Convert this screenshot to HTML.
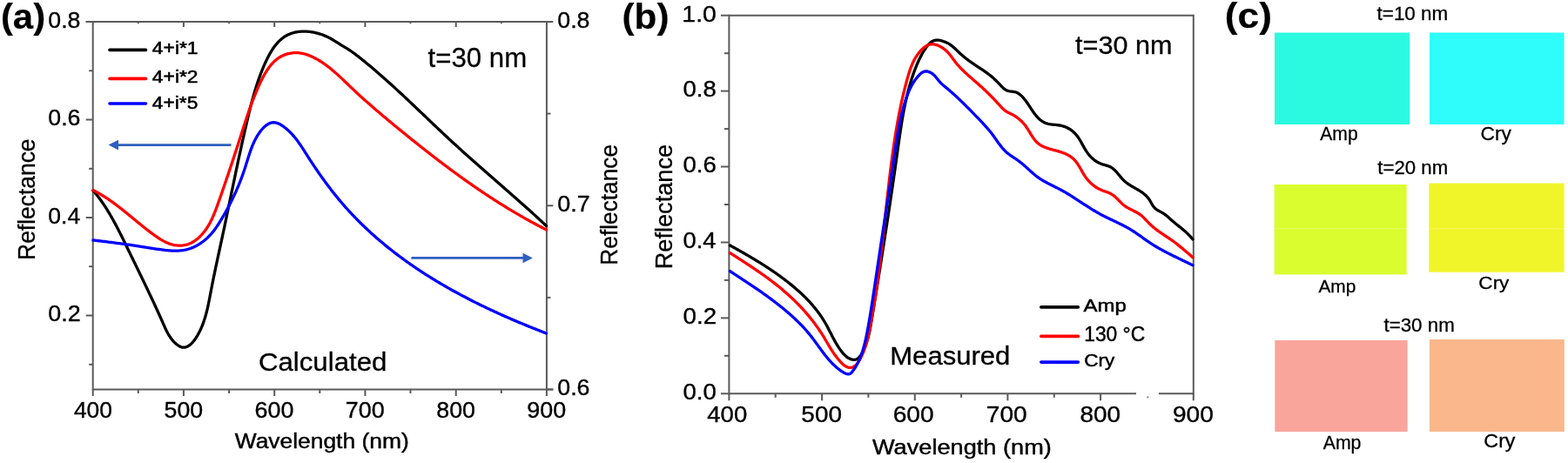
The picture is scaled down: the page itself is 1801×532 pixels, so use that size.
<!DOCTYPE html>
<html><head><meta charset="utf-8"><title>Reflectance spectra</title>
<style>
html,body{margin:0;padding:0;background:#fff;}
body{width:1801px;height:532px;overflow:hidden;}
svg{display:block;}
svg text{font-family:"Liberation Sans", Arial, sans-serif;fill:#000;stroke:#000;}
</style></head>
<body>
<svg width="1801" height="532" viewBox="0 0 1801 532">
<rect width="1801" height="532" fill="#fff"/>
<line x1="98.7" y1="25.0" x2="627.9" y2="25.0" stroke="#5a5a5a" stroke-width="2.0"/>
<line x1="106.7" y1="24.0" x2="106.7" y2="448.5" stroke="#5a5a5a" stroke-width="2.0"/>
<line x1="627.9" y1="24.0" x2="627.9" y2="448.5" stroke="#5a5a5a" stroke-width="2.0"/>
<line x1="106.7" y1="447.5" x2="635.4" y2="447.5" stroke="#5a5a5a" stroke-width="2.0"/>
<line x1="106.7" y1="447.5" x2="106.7" y2="455.0" stroke="#5a5a5a" stroke-width="2.0"/>
<text transform="translate(84.92,479.84) scale(1.0186,1)" font-size="25.92" font-weight="normal" stroke-width="0.38">400</text>
<line x1="158.8" y1="447.5" x2="158.8" y2="452.0" stroke="#5a5a5a" stroke-width="2.0"/>
<line x1="158.8" y1="25.0" x2="158.8" y2="27.2" stroke="#5a5a5a" stroke-width="2.0"/>
<line x1="210.9" y1="447.5" x2="210.9" y2="455.0" stroke="#5a5a5a" stroke-width="2.0"/>
<line x1="210.9" y1="25.0" x2="210.9" y2="31.0" stroke="#5a5a5a" stroke-width="2.0"/>
<text transform="translate(188.62,479.84) scale(1.0314,1)" font-size="25.92" font-weight="normal" stroke-width="0.38">500</text>
<line x1="263.1" y1="447.5" x2="263.1" y2="452.0" stroke="#5a5a5a" stroke-width="2.0"/>
<line x1="263.1" y1="25.0" x2="263.1" y2="27.2" stroke="#5a5a5a" stroke-width="2.0"/>
<line x1="315.2" y1="447.5" x2="315.2" y2="455.0" stroke="#5a5a5a" stroke-width="2.0"/>
<line x1="315.2" y1="25.0" x2="315.2" y2="31.0" stroke="#5a5a5a" stroke-width="2.0"/>
<text transform="translate(292.59,479.84) scale(1.0379,1)" font-size="25.92" font-weight="normal" stroke-width="0.38">600</text>
<line x1="367.3" y1="447.5" x2="367.3" y2="452.0" stroke="#5a5a5a" stroke-width="2.0"/>
<line x1="367.3" y1="25.0" x2="367.3" y2="27.2" stroke="#5a5a5a" stroke-width="2.0"/>
<line x1="419.4" y1="447.5" x2="419.4" y2="455.0" stroke="#5a5a5a" stroke-width="2.0"/>
<line x1="419.4" y1="25.0" x2="419.4" y2="31.0" stroke="#5a5a5a" stroke-width="2.0"/>
<text transform="translate(396.83,479.84) scale(1.0379,1)" font-size="25.92" font-weight="normal" stroke-width="0.38">700</text>
<line x1="471.5" y1="447.5" x2="471.5" y2="452.0" stroke="#5a5a5a" stroke-width="2.0"/>
<line x1="471.5" y1="25.0" x2="471.5" y2="27.2" stroke="#5a5a5a" stroke-width="2.0"/>
<line x1="523.7" y1="447.5" x2="523.7" y2="455.0" stroke="#5a5a5a" stroke-width="2.0"/>
<line x1="523.7" y1="25.0" x2="523.7" y2="31.0" stroke="#5a5a5a" stroke-width="2.0"/>
<text transform="translate(501.34,479.84) scale(1.0314,1)" font-size="25.92" font-weight="normal" stroke-width="0.38">800</text>
<line x1="575.8" y1="447.5" x2="575.8" y2="452.0" stroke="#5a5a5a" stroke-width="2.0"/>
<line x1="575.8" y1="25.0" x2="575.8" y2="27.2" stroke="#5a5a5a" stroke-width="2.0"/>
<line x1="627.9" y1="447.5" x2="627.9" y2="455.0" stroke="#5a5a5a" stroke-width="2.0"/>
<text transform="translate(605.31,479.84) scale(1.0379,1)" font-size="25.92" font-weight="normal" stroke-width="0.38">900</text>
<line x1="102.2" y1="418.8" x2="106.7" y2="418.8" stroke="#5a5a5a" stroke-width="2.0"/>
<line x1="98.7" y1="362.5" x2="106.7" y2="362.5" stroke="#5a5a5a" stroke-width="2.0"/>
<text transform="translate(55.32,369.24) scale(1.0389,1)" font-size="25.92" font-weight="normal" stroke-width="0.38">0.2</text>
<line x1="102.2" y1="306.2" x2="106.7" y2="306.2" stroke="#5a5a5a" stroke-width="2.0"/>
<line x1="98.7" y1="250.0" x2="106.7" y2="250.0" stroke="#5a5a5a" stroke-width="2.0"/>
<text transform="translate(55.34,256.74) scale(1.0231,1)" font-size="25.92" font-weight="normal" stroke-width="0.38">0.4</text>
<line x1="102.2" y1="193.8" x2="106.7" y2="193.8" stroke="#5a5a5a" stroke-width="2.0"/>
<line x1="98.7" y1="137.5" x2="106.7" y2="137.5" stroke="#5a5a5a" stroke-width="2.0"/>
<text transform="translate(55.33,144.24) scale(1.0309,1)" font-size="25.92" font-weight="normal" stroke-width="0.38">0.6</text>
<line x1="102.2" y1="81.3" x2="106.7" y2="81.3" stroke="#5a5a5a" stroke-width="2.0"/>
<line x1="98.7" y1="25.0" x2="106.7" y2="25.0" stroke="#5a5a5a" stroke-width="2.0"/>
<text transform="translate(55.33,31.74) scale(1.0309,1)" font-size="25.92" font-weight="normal" stroke-width="0.38">0.8</text>
<line x1="627.9" y1="447.5" x2="635.4" y2="447.5" stroke="#5a5a5a" stroke-width="2.0"/>
<text transform="translate(640.33,454.14) scale(1.0090,1)" font-size="26.48" font-weight="normal" stroke-width="0.37">0.6</text>
<line x1="627.9" y1="341.9" x2="632.4" y2="341.9" stroke="#5a5a5a" stroke-width="2.0"/>
<line x1="627.9" y1="236.3" x2="635.4" y2="236.3" stroke="#5a5a5a" stroke-width="2.0"/>
<text transform="translate(640.32,242.89) scale(1.0168,1)" font-size="26.48" font-weight="normal" stroke-width="0.37">0.7</text>
<line x1="627.9" y1="130.6" x2="632.4" y2="130.6" stroke="#5a5a5a" stroke-width="2.0"/>
<line x1="627.9" y1="25.0" x2="635.4" y2="25.0" stroke="#5a5a5a" stroke-width="2.0"/>
<text transform="translate(640.33,31.64) scale(1.0090,1)" font-size="26.48" font-weight="normal" stroke-width="0.37">0.8</text>
<path d="M107.01,218.99 L107.98,220.12 L108.94,221.26 L109.88,222.41 L110.82,223.56 L111.74,224.73 L112.66,225.91 L113.56,227.10 L114.45,228.30 L115.34,229.51 L116.21,230.72 L117.07,231.95 L117.93,233.18 L118.78,234.42 L119.61,235.67 L120.44,236.93 L121.26,238.19 L122.08,239.46 L122.88,240.74 L123.68,242.03 L124.47,243.32 L125.25,244.62 L126.03,245.92 L126.79,247.23 L127.56,248.54 L128.31,249.86 L129.06,251.19 L129.80,252.52 L130.54,253.85 L131.27,255.19 L132.00,256.53 L132.72,257.88 L133.44,259.23 L134.15,260.58 L134.86,261.93 L135.56,263.29 L136.26,264.65 L136.96,266.01 L137.65,267.38 L138.34,268.75 L139.02,270.11 L139.70,271.48 L140.38,272.85 L141.06,274.22 L141.73,275.59 L142.41,276.96 L143.08,278.34 L143.74,279.71 L144.41,281.08 L145.08,282.45 L145.74,283.82 L146.41,285.18 L147.07,286.55 L147.73,287.91 L148.40,289.27 L149.06,290.64 L149.72,291.99 L150.38,293.35 L151.04,294.71 L151.70,296.06 L152.36,297.42 L153.02,298.77 L153.68,300.12 L154.34,301.47 L155.00,302.82 L155.66,304.17 L156.32,305.52 L156.97,306.87 L157.63,308.22 L158.29,309.57 L158.94,310.92 L159.60,312.26 L160.25,313.61 L160.91,314.96 L161.56,316.31 L162.21,317.65 L162.86,319.00 L163.52,320.35 L164.17,321.70 L164.82,323.05 L165.47,324.40 L166.12,325.75 L166.77,327.10 L167.42,328.46 L168.07,329.81 L168.72,331.17 L169.36,332.52 L170.01,333.88 L170.66,335.24 L171.30,336.60 L171.95,337.96 L172.59,339.33 L173.24,340.69 L173.88,342.06 L174.52,343.43 L175.17,344.80 L175.81,346.17 L176.45,347.55 L177.09,348.93 L177.73,350.31 L178.37,351.69 L179.01,353.08 L179.65,354.47 L180.29,355.86 L180.92,357.25 L181.56,358.65 L182.20,360.05 L182.83,361.45 L183.47,362.86 L184.10,364.27 L184.74,365.68 L185.37,367.10 L186.00,368.52 L186.63,369.94 L187.26,371.37 L187.90,372.80 L188.53,374.23 L189.17,375.66 L189.83,377.09 L190.50,378.50 L191.18,379.91 L191.89,381.30 L192.62,382.68 L193.38,384.04 L194.18,385.38 L195.01,386.70 L195.88,387.99 L196.79,389.25 L197.75,390.48 L198.76,391.68 L199.83,392.83 L200.95,393.95 L202.13,395.02 L203.34,396.02 L204.59,396.91 L205.86,397.69 L207.12,398.33 L208.38,398.79 L209.62,399.07 L210.84,399.18 L212.03,399.12 L213.20,398.91 L214.35,398.55 L215.47,398.05 L216.57,397.43 L217.65,396.69 L218.70,395.85 L219.72,394.92 L220.72,393.90 L221.69,392.81 L222.63,391.65 L223.54,390.44 L224.42,389.19 L225.28,387.90 L226.10,386.59 L226.90,385.27 L227.66,383.93 L228.40,382.59 L229.10,381.23 L229.78,379.86 L230.44,378.48 L231.07,377.09 L231.67,375.69 L232.25,374.28 L232.81,372.86 L233.34,371.43 L233.86,370.00 L234.36,368.55 L234.83,367.10 L235.29,365.65 L235.73,364.19 L236.16,362.72 L236.57,361.24 L236.96,359.76 L237.34,358.28 L237.71,356.79 L238.07,355.29 L238.42,353.80 L238.75,352.30 L239.08,350.80 L239.40,349.29 L239.71,347.78 L240.01,346.28 L240.31,344.77 L240.61,343.26 L240.90,341.75 L241.19,340.24 L241.47,338.73 L241.76,337.22 L242.04,335.71 L242.33,334.21 L242.62,332.70 L242.91,331.20 L243.20,329.70 L243.49,328.21 L243.79,326.71 L244.08,325.22 L244.38,323.73 L244.68,322.24 L244.98,320.75 L245.28,319.27 L245.59,317.78 L245.89,316.30 L246.20,314.82 L246.50,313.34 L246.81,311.86 L247.12,310.38 L247.43,308.91 L247.74,307.43 L248.05,305.96 L248.37,304.48 L248.68,303.01 L248.99,301.54 L249.31,300.07 L249.62,298.60 L249.94,297.13 L250.26,295.66 L250.57,294.19 L250.89,292.72 L251.21,291.25 L251.53,289.78 L251.84,288.31 L252.16,286.85 L252.48,285.38 L252.80,283.91 L253.12,282.44 L253.43,280.97 L253.75,279.50 L254.07,278.03 L254.39,276.56 L254.70,275.09 L255.02,273.61 L255.34,272.14 L255.65,270.67 L255.97,269.19 L256.28,267.72 L256.60,266.24 L256.91,264.76 L257.22,263.29 L257.54,261.81 L257.85,260.33 L258.16,258.85 L258.47,257.37 L258.78,255.89 L259.10,254.40 L259.41,252.92 L259.72,251.44 L260.03,249.95 L260.34,248.47 L260.65,246.98 L260.96,245.50 L261.27,244.01 L261.58,242.53 L261.89,241.04 L262.19,239.55 L262.50,238.07 L262.81,236.58 L263.12,235.09 L263.43,233.60 L263.74,232.11 L264.05,230.62 L264.35,229.14 L264.66,227.65 L264.97,226.16 L265.28,224.67 L265.59,223.18 L265.90,221.69 L266.21,220.20 L266.52,218.71 L266.83,217.22 L267.14,215.72 L267.44,214.23 L267.75,212.74 L268.06,211.25 L268.37,209.76 L268.69,208.27 L269.00,206.78 L269.31,205.29 L269.62,203.80 L269.93,202.31 L270.24,200.82 L270.55,199.33 L270.87,197.84 L271.18,196.36 L271.49,194.87 L271.81,193.38 L272.12,191.89 L272.44,190.40 L272.75,188.92 L273.07,187.43 L273.39,185.94 L273.70,184.46 L274.02,182.97 L274.34,181.49 L274.66,180.00 L274.98,178.52 L275.30,177.03 L275.62,175.55 L275.94,174.07 L276.26,172.59 L276.58,171.10 L276.91,169.62 L277.23,168.14 L277.56,166.66 L277.88,165.19 L278.21,163.71 L278.54,162.23 L278.86,160.75 L279.19,159.28 L279.52,157.80 L279.85,156.33 L280.19,154.86 L280.52,153.39 L280.85,151.91 L281.19,150.44 L281.52,148.97 L281.86,147.51 L282.20,146.04 L282.54,144.57 L282.88,143.11 L283.22,141.64 L283.56,140.18 L283.90,138.72 L284.25,137.26 L284.59,135.80 L284.94,134.34 L285.29,132.88 L285.64,131.43 L285.99,129.97 L286.34,128.52 L286.70,127.06 L287.06,125.61 L287.42,124.16 L287.79,122.71 L288.16,121.26 L288.53,119.81 L288.91,118.36 L289.29,116.92 L289.68,115.47 L290.07,114.02 L290.47,112.58 L290.87,111.14 L291.27,109.69 L291.69,108.25 L292.11,106.80 L292.53,105.36 L292.96,103.92 L293.40,102.48 L293.85,101.04 L294.30,99.60 L294.77,98.15 L295.24,96.71 L295.71,95.27 L296.20,93.83 L296.69,92.39 L297.20,90.95 L297.71,89.51 L298.23,88.07 L298.77,86.63 L299.31,85.19 L299.86,83.75 L300.42,82.31 L301.00,80.87 L301.58,79.43 L302.18,77.99 L302.78,76.55 L303.40,75.11 L304.03,73.67 L304.68,72.23 L305.34,70.79 L306.01,69.36 L306.69,67.94 L307.40,66.53 L308.11,65.13 L308.85,63.74 L309.60,62.36 L310.37,61.01 L311.16,59.67 L311.97,58.35 L312.79,57.05 L313.64,55.77 L314.51,54.53 L315.41,53.30 L316.32,52.11 L317.26,50.95 L318.22,49.82 L319.21,48.72 L320.22,47.66 L321.25,46.64 L322.32,45.66 L323.41,44.72 L324.53,43.82 L325.68,42.97 L326.85,42.17 L328.06,41.41 L329.30,40.71 L330.56,40.05 L331.86,39.45 L333.19,38.91 L334.55,38.41 L335.93,37.97 L337.33,37.57 L338.76,37.23 L340.20,36.93 L341.66,36.68 L343.14,36.48 L344.64,36.32 L346.15,36.21 L347.66,36.15 L349.19,36.13 L350.72,36.15 L352.26,36.22 L353.81,36.32 L355.35,36.47 L356.89,36.66 L358.44,36.89 L359.98,37.16 L361.51,37.46 L363.03,37.81 L364.55,38.19 L366.06,38.60 L367.55,39.05 L369.03,39.54 L370.49,40.06 L371.93,40.61 L373.35,41.19 L374.76,41.81 L376.13,42.45 L377.49,43.13 L378.83,43.83 L380.14,44.55 L381.45,45.29 L382.74,46.04 L384.02,46.82 L385.29,47.60 L386.55,48.38 L387.81,49.18 L389.07,49.97 L390.33,50.76 L391.59,51.55 L392.86,52.34 L394.13,53.11 L395.41,53.87 L396.69,54.64 L397.97,55.41 L399.24,56.20 L400.50,57.00 L401.75,57.82 L402.99,58.66 L404.23,59.51 L405.45,60.38 L406.67,61.27 L407.88,62.16 L409.08,63.07 L410.28,63.99 L411.48,64.91 L412.66,65.85 L413.85,66.78 L415.03,67.73 L416.21,68.67 L417.38,69.62 L418.56,70.58 L419.73,71.53 L420.90,72.49 L422.06,73.45 L423.23,74.42 L424.39,75.38 L425.55,76.35 L426.71,77.33 L427.86,78.30 L429.02,79.28 L430.17,80.26 L431.32,81.24 L432.46,82.23 L433.61,83.21 L434.75,84.20 L435.89,85.20 L437.03,86.19 L438.17,87.19 L439.31,88.19 L440.44,89.19 L441.57,90.19 L442.71,91.20 L443.84,92.20 L444.96,93.21 L446.09,94.22 L447.21,95.24 L448.34,96.25 L449.46,97.27 L450.58,98.29 L451.70,99.31 L452.82,100.33 L453.93,101.35 L455.05,102.38 L456.16,103.40 L457.28,104.43 L458.39,105.46 L459.50,106.49 L460.61,107.52 L461.72,108.55 L462.83,109.58 L463.94,110.62 L465.04,111.65 L466.15,112.69 L467.25,113.73 L468.36,114.77 L469.46,115.81 L470.56,116.85 L471.67,117.89 L472.77,118.93 L473.87,119.97 L474.97,121.01 L476.07,122.06 L477.17,123.10 L478.27,124.15 L479.37,125.19 L480.47,126.24 L481.56,127.28 L482.66,128.33 L483.76,129.37 L484.86,130.42 L485.96,131.47 L487.05,132.51 L488.15,133.56 L489.25,134.61 L490.35,135.65 L491.45,136.70 L492.54,137.75 L493.64,138.79 L494.74,139.84 L495.84,140.88 L496.94,141.93 L498.04,142.97 L499.14,144.02 L500.24,145.06 L501.34,146.11 L502.44,147.15 L503.54,148.19 L504.64,149.23 L505.74,150.27 L506.85,151.31 L507.95,152.35 L509.06,153.39 L510.16,154.43 L511.27,155.46 L512.38,156.50 L513.48,157.53 L514.59,158.57 L515.70,159.60 L516.81,160.63 L517.93,161.66 L519.04,162.69 L520.15,163.71 L521.27,164.74 L522.39,165.76 L523.50,166.79 L524.62,167.81 L525.74,168.83 L526.86,169.85 L527.98,170.86 L529.11,171.88 L530.23,172.90 L531.35,173.91 L532.48,174.92 L533.61,175.94 L534.73,176.95 L535.86,177.96 L536.99,178.97 L538.12,179.97 L539.25,180.98 L540.38,181.99 L541.51,182.99 L542.65,184.00 L543.78,185.00 L544.91,186.01 L546.05,187.01 L547.18,188.01 L548.32,189.01 L549.45,190.01 L550.59,191.01 L551.72,192.01 L552.86,193.01 L554.00,194.01 L555.14,195.01 L556.27,196.01 L557.41,197.01 L558.55,198.00 L559.69,199.00 L560.83,200.00 L561.97,200.99 L563.11,201.99 L564.25,202.99 L565.39,203.98 L566.53,204.98 L567.67,205.97 L568.81,206.97 L569.95,207.96 L571.09,208.96 L572.23,209.96 L573.37,210.95 L574.51,211.95 L575.65,212.94 L576.79,213.94 L577.93,214.94 L579.07,215.93 L580.21,216.93 L581.34,217.93 L582.48,218.93 L583.62,219.92 L584.76,220.92 L585.90,221.92 L587.03,222.92 L588.17,223.92 L589.31,224.92 L590.44,225.92 L591.58,226.93 L592.71,227.93 L593.85,228.93 L594.98,229.94 L596.12,230.94 L597.25,231.95 L598.38,232.95 L599.51,233.96 L600.64,234.97 L601.77,235.97 L602.90,236.98 L604.03,238.00 L605.16,239.01 L606.28,240.02 L607.41,241.03 L608.53,242.05 L609.66,243.06 L610.78,244.08 L611.90,245.10 L613.03,246.12 L614.15,247.14 L615.26,248.16 L616.38,249.19 L617.50,250.21 L618.62,251.24 L619.73,252.26 L620.84,253.29 L621.96,254.32 L623.07,255.36 L624.18,256.39 L625.29,257.43 L626.39,258.46 L627.50,259.50" fill="none" stroke="#000000" stroke-width="3.3" stroke-linejoin="round" stroke-linecap="round"/>
<path d="M107.00,218.60 L108.36,219.29 L109.70,220.00 L111.03,220.72 L112.36,221.45 L113.66,222.19 L114.96,222.94 L116.25,223.71 L117.52,224.48 L118.79,225.26 L120.05,226.05 L121.29,226.86 L122.53,227.67 L123.76,228.49 L124.98,229.31 L126.20,230.15 L127.40,230.99 L128.60,231.84 L129.80,232.70 L130.98,233.57 L132.16,234.44 L133.34,235.31 L134.51,236.20 L135.67,237.09 L136.84,237.98 L137.99,238.88 L139.15,239.79 L140.30,240.70 L141.45,241.61 L142.59,242.53 L143.73,243.46 L144.88,244.38 L146.02,245.31 L147.16,246.24 L148.30,247.18 L149.44,248.12 L150.58,249.06 L151.72,250.00 L152.86,250.94 L154.00,251.88 L155.15,252.83 L156.29,253.77 L157.44,254.72 L158.60,255.67 L159.75,256.61 L160.91,257.56 L162.08,258.50 L163.25,259.45 L164.42,260.39 L165.60,261.33 L166.78,262.27 L167.97,263.21 L169.17,264.14 L170.38,265.07 L171.59,266.00 L172.81,266.93 L174.04,267.85 L175.27,268.77 L176.52,269.68 L177.77,270.58 L179.03,271.47 L180.30,272.34 L181.58,273.20 L182.87,274.03 L184.16,274.84 L185.47,275.63 L186.78,276.38 L188.10,277.10 L189.43,277.78 L190.77,278.42 L192.12,279.02 L193.47,279.58 L194.84,280.09 L196.21,280.54 L197.60,280.94 L198.99,281.29 L200.38,281.57 L201.78,281.80 L203.18,281.97 L204.58,282.09 L205.98,282.14 L207.38,282.13 L208.77,282.06 L210.15,281.92 L211.53,281.72 L212.89,281.46 L214.24,281.13 L215.57,280.74 L216.89,280.28 L218.19,279.75 L219.47,279.16 L220.73,278.51 L221.97,277.79 L223.19,277.03 L224.38,276.21 L225.56,275.33 L226.71,274.42 L227.84,273.45 L228.94,272.45 L230.02,271.40 L231.07,270.32 L232.09,269.21 L233.09,268.06 L234.06,266.89 L235.00,265.69 L235.91,264.47 L236.80,263.23 L237.65,261.97 L238.47,260.70 L239.26,259.41 L240.03,258.11 L240.77,256.79 L241.48,255.47 L242.17,254.13 L242.84,252.78 L243.49,251.42 L244.12,250.06 L244.73,248.68 L245.33,247.30 L245.91,245.91 L246.47,244.51 L247.03,243.11 L247.57,241.70 L248.10,240.29 L248.63,238.88 L249.15,237.46 L249.66,236.05 L250.17,234.63 L250.67,233.21 L251.18,231.79 L251.68,230.37 L252.18,228.95 L252.68,227.54 L253.18,226.12 L253.68,224.70 L254.18,223.28 L254.67,221.87 L255.16,220.45 L255.65,219.04 L256.14,217.62 L256.63,216.21 L257.12,214.79 L257.61,213.38 L258.09,211.96 L258.58,210.55 L259.06,209.14 L259.54,207.72 L260.02,206.31 L260.50,204.90 L260.98,203.49 L261.46,202.08 L261.93,200.66 L262.41,199.25 L262.88,197.84 L263.35,196.43 L263.82,195.02 L264.29,193.61 L264.76,192.20 L265.23,190.79 L265.70,189.38 L266.17,187.98 L266.63,186.57 L267.10,185.16 L267.56,183.75 L268.03,182.34 L268.49,180.94 L268.95,179.53 L269.41,178.12 L269.87,176.72 L270.33,175.31 L270.79,173.90 L271.25,172.50 L271.70,171.09 L272.16,169.69 L272.62,168.28 L273.07,166.88 L273.53,165.47 L273.98,164.07 L274.43,162.67 L274.89,161.26 L275.34,159.86 L275.79,158.46 L276.24,157.05 L276.69,155.65 L277.14,154.25 L277.59,152.85 L278.04,151.44 L278.49,150.04 L278.94,148.64 L279.39,147.24 L279.84,145.84 L280.30,144.44 L280.75,143.04 L281.20,141.64 L281.66,140.24 L282.12,138.83 L282.58,137.43 L283.04,136.03 L283.51,134.63 L283.97,133.23 L284.45,131.83 L284.92,130.43 L285.40,129.03 L285.89,127.63 L286.37,126.23 L286.87,124.83 L287.36,123.43 L287.87,122.03 L288.38,120.63 L288.89,119.23 L289.41,117.83 L289.94,116.43 L290.47,115.03 L291.01,113.63 L291.56,112.23 L292.11,110.83 L292.67,109.42 L293.24,108.02 L293.82,106.62 L294.41,105.22 L295.00,103.82 L295.61,102.41 L296.22,101.01 L296.84,99.61 L297.48,98.20 L298.12,96.80 L298.77,95.40 L299.44,93.99 L300.12,92.60 L300.80,91.20 L301.51,89.82 L302.23,88.44 L302.96,87.08 L303.71,85.73 L304.48,84.39 L305.26,83.07 L306.07,81.77 L306.89,80.50 L307.74,79.24 L308.61,78.01 L309.50,76.81 L310.41,75.64 L311.35,74.50 L312.31,73.39 L313.30,72.32 L314.32,71.28 L315.36,70.28 L316.43,69.33 L317.53,68.41 L318.67,67.55 L319.83,66.72 L321.02,65.95 L322.24,65.23 L323.49,64.55 L324.77,63.92 L326.06,63.35 L327.38,62.83 L328.72,62.36 L330.07,61.94 L331.44,61.58 L332.82,61.27 L334.22,61.02 L335.62,60.82 L337.04,60.69 L338.45,60.60 L339.88,60.58 L341.31,60.62 L342.74,60.72 L344.16,60.87 L345.59,61.08 L347.02,61.35 L348.45,61.66 L349.87,62.02 L351.29,62.43 L352.71,62.89 L354.12,63.39 L355.53,63.93 L356.93,64.51 L358.32,65.12 L359.71,65.77 L361.08,66.45 L362.45,67.17 L363.81,67.91 L365.15,68.68 L366.49,69.47 L367.81,70.28 L369.12,71.12 L370.41,71.97 L371.69,72.84 L372.95,73.73 L374.20,74.63 L375.43,75.53 L376.65,76.45 L377.85,77.38 L379.04,78.32 L380.21,79.27 L381.37,80.22 L382.52,81.19 L383.66,82.16 L384.79,83.14 L385.91,84.12 L387.02,85.12 L388.12,86.11 L389.22,87.11 L390.31,88.12 L391.39,89.13 L392.47,90.15 L393.54,91.16 L394.61,92.18 L395.68,93.20 L396.74,94.22 L397.81,95.25 L398.87,96.27 L399.93,97.29 L401.00,98.32 L402.06,99.34 L403.13,100.36 L404.20,101.37 L405.27,102.39 L406.35,103.40 L407.43,104.41 L408.51,105.42 L409.59,106.43 L410.68,107.43 L411.77,108.44 L412.86,109.44 L413.96,110.44 L415.05,111.43 L416.15,112.43 L417.26,113.42 L418.36,114.41 L419.47,115.40 L420.58,116.39 L421.69,117.38 L422.80,118.36 L423.91,119.34 L425.03,120.32 L426.15,121.30 L427.27,122.28 L428.40,123.26 L429.52,124.23 L430.65,125.20 L431.78,126.18 L432.91,127.15 L434.04,128.11 L435.17,129.08 L436.31,130.05 L437.44,131.01 L438.58,131.98 L439.72,132.94 L440.86,133.90 L442.00,134.86 L443.15,135.82 L444.29,136.77 L445.44,137.73 L446.58,138.69 L447.73,139.64 L448.88,140.59 L450.03,141.54 L451.18,142.50 L452.33,143.45 L453.48,144.40 L454.64,145.34 L455.79,146.29 L456.95,147.24 L458.10,148.18 L459.26,149.13 L460.41,150.07 L461.57,151.02 L462.73,151.96 L463.89,152.90 L465.04,153.84 L466.20,154.78 L467.36,155.72 L468.52,156.66 L469.68,157.60 L470.85,158.54 L472.01,159.47 L473.17,160.41 L474.34,161.34 L475.50,162.28 L476.66,163.21 L477.83,164.14 L479.00,165.07 L480.16,166.00 L481.33,166.93 L482.50,167.86 L483.67,168.78 L484.84,169.71 L486.01,170.63 L487.18,171.55 L488.35,172.48 L489.53,173.40 L490.70,174.32 L491.88,175.23 L493.05,176.15 L494.23,177.07 L495.41,177.98 L496.59,178.89 L497.76,179.80 L498.95,180.72 L500.13,181.62 L501.31,182.53 L502.49,183.44 L503.68,184.34 L504.86,185.25 L506.05,186.15 L507.23,187.05 L508.42,187.95 L509.61,188.85 L510.80,189.74 L511.99,190.64 L513.18,191.53 L514.38,192.42 L515.57,193.31 L516.76,194.20 L517.96,195.09 L519.16,195.97 L520.36,196.86 L521.56,197.74 L522.76,198.62 L523.96,199.50 L525.16,200.37 L526.37,201.25 L527.57,202.12 L528.78,202.99 L529.99,203.86 L531.19,204.73 L532.40,205.60 L533.62,206.46 L534.83,207.32 L536.04,208.18 L537.26,209.04 L538.47,209.90 L539.69,210.75 L540.91,211.61 L542.13,212.46 L543.35,213.31 L544.58,214.15 L545.80,215.00 L547.03,215.84 L548.25,216.68 L549.48,217.52 L550.71,218.35 L551.94,219.19 L553.18,220.02 L554.41,220.85 L555.65,221.68 L556.88,222.50 L558.12,223.33 L559.36,224.15 L560.60,224.97 L561.85,225.78 L563.09,226.60 L564.34,227.41 L565.59,228.22 L566.83,229.03 L568.09,229.83 L569.34,230.64 L570.59,231.44 L571.85,232.23 L573.10,233.03 L574.36,233.82 L575.62,234.61 L576.89,235.40 L578.15,236.18 L579.41,236.97 L580.68,237.75 L581.95,238.53 L583.22,239.30 L584.49,240.07 L585.77,240.84 L587.04,241.61 L588.32,242.38 L589.60,243.14 L590.88,243.90 L592.16,244.65 L593.45,245.41 L594.73,246.16 L596.02,246.91 L597.31,247.65 L598.60,248.40 L599.89,249.14 L601.19,249.87 L602.49,250.61 L603.79,251.34 L605.09,252.07 L606.39,252.79 L607.70,253.51 L609.00,254.23 L610.31,254.95 L611.62,255.67 L612.93,256.38 L614.25,257.08 L615.57,257.79 L616.88,258.49 L618.20,259.19 L619.53,259.88 L620.85,260.58 L622.18,261.27 L623.51,261.95 L624.84,262.63 L626.17,263.31 L627.51,263.99" fill="none" stroke="#ff0000" stroke-width="3.3" stroke-linejoin="round" stroke-linecap="round"/>
<path d="M107.00,276.00 L108.61,276.18 L110.22,276.37 L111.82,276.56 L113.43,276.74 L115.02,276.93 L116.62,277.12 L118.21,277.32 L119.79,277.51 L121.38,277.70 L122.96,277.90 L124.54,278.10 L126.11,278.30 L127.69,278.50 L129.26,278.70 L130.83,278.90 L132.40,279.11 L133.97,279.32 L135.53,279.52 L137.09,279.73 L138.66,279.94 L140.22,280.16 L141.78,280.37 L143.34,280.59 L144.90,280.81 L146.46,281.02 L148.02,281.25 L149.58,281.47 L151.14,281.69 L152.70,281.92 L154.26,282.15 L155.82,282.37 L157.39,282.61 L158.95,282.84 L160.51,283.07 L162.08,283.31 L163.65,283.55 L165.22,283.79 L166.79,284.03 L168.36,284.27 L169.94,284.51 L171.52,284.76 L173.10,285.01 L174.68,285.26 L176.27,285.51 L177.86,285.76 L179.45,286.01 L181.04,286.26 L182.63,286.50 L184.23,286.73 L185.82,286.95 L187.42,287.16 L189.01,287.35 L190.60,287.53 L192.19,287.69 L193.78,287.83 L195.37,287.94 L196.95,288.03 L198.52,288.10 L200.10,288.13 L201.67,288.14 L203.23,288.11 L204.79,288.04 L206.34,287.94 L207.89,287.80 L209.43,287.61 L210.96,287.39 L212.48,287.11 L213.99,286.79 L215.50,286.42 L217.00,286.00 L218.48,285.52 L219.96,284.99 L221.42,284.40 L222.87,283.76 L224.30,283.08 L225.72,282.34 L227.12,281.56 L228.51,280.73 L229.87,279.86 L231.21,278.95 L232.53,278.01 L233.82,277.03 L235.09,276.01 L236.33,274.96 L237.55,273.89 L238.73,272.78 L239.88,271.65 L241.00,270.50 L242.08,269.32 L243.14,268.12 L244.16,266.91 L245.15,265.68 L246.11,264.43 L247.05,263.16 L247.97,261.88 L248.87,260.59 L249.74,259.29 L250.60,257.98 L251.45,256.65 L252.28,255.32 L253.10,253.99 L253.92,252.64 L254.72,251.30 L255.53,249.95 L256.32,248.59 L257.11,247.23 L257.89,245.87 L258.66,244.50 L259.43,243.13 L260.19,241.75 L260.94,240.37 L261.69,238.99 L262.43,237.60 L263.16,236.20 L263.89,234.80 L264.61,233.40 L265.32,231.99 L266.03,230.58 L266.72,229.17 L267.41,227.74 L268.10,226.32 L268.77,224.89 L269.44,223.45 L270.10,222.01 L270.75,220.57 L271.40,219.12 L272.04,217.66 L272.66,216.21 L273.29,214.74 L273.90,213.27 L274.51,211.80 L275.11,210.32 L275.70,208.84 L276.28,207.35 L276.85,205.85 L277.42,204.36 L277.98,202.85 L278.53,201.34 L279.07,199.83 L279.60,198.31 L280.12,196.78 L280.64,195.25 L281.15,193.72 L281.65,192.18 L282.14,190.63 L282.63,189.09 L283.11,187.53 L283.59,185.98 L284.07,184.43 L284.56,182.88 L285.04,181.33 L285.54,179.78 L286.04,178.24 L286.54,176.70 L287.06,175.17 L287.59,173.65 L288.13,172.13 L288.69,170.62 L289.26,169.12 L289.85,167.63 L290.47,166.15 L291.10,164.69 L291.76,163.24 L292.44,161.80 L293.15,160.39 L293.89,158.98 L294.66,157.60 L295.46,156.23 L296.30,154.88 L297.17,153.56 L298.07,152.25 L299.02,150.97 L300.00,149.72 L301.03,148.49 L302.09,147.31 L303.20,146.19 L304.33,145.14 L305.50,144.17 L306.70,143.30 L307.94,142.53 L309.20,141.88 L310.49,141.36 L311.80,140.98 L313.14,140.76 L314.51,140.71 L315.89,140.83 L317.29,141.12 L318.71,141.55 L320.12,142.12 L321.53,142.81 L322.94,143.60 L324.34,144.49 L325.71,145.45 L327.06,146.46 L328.38,147.53 L329.67,148.62 L330.92,149.74 L332.13,150.87 L333.30,152.03 L334.44,153.20 L335.55,154.39 L336.64,155.60 L337.69,156.82 L338.72,158.05 L339.72,159.31 L340.70,160.57 L341.66,161.84 L342.61,163.13 L343.53,164.43 L344.44,165.73 L345.34,167.04 L346.22,168.36 L347.10,169.69 L347.96,171.02 L348.83,172.36 L349.68,173.69 L350.53,175.04 L351.39,176.38 L352.24,177.72 L353.10,179.06 L353.95,180.40 L354.82,181.74 L355.68,183.08 L356.55,184.42 L357.43,185.75 L358.31,187.09 L359.19,188.42 L360.07,189.75 L360.96,191.08 L361.86,192.41 L362.75,193.73 L363.66,195.05 L364.56,196.37 L365.47,197.69 L366.38,199.00 L367.30,200.32 L368.22,201.63 L369.15,202.93 L370.08,204.24 L371.01,205.54 L371.95,206.84 L372.90,208.13 L373.84,209.43 L374.79,210.72 L375.75,212.00 L376.71,213.28 L377.67,214.56 L378.64,215.84 L379.62,217.11 L380.59,218.38 L381.58,219.64 L382.56,220.90 L383.56,222.15 L384.55,223.40 L385.55,224.65 L386.56,225.89 L387.57,227.13 L388.58,228.36 L389.60,229.59 L390.63,230.82 L391.66,232.03 L392.69,233.25 L393.73,234.46 L394.77,235.66 L395.82,236.86 L396.88,238.05 L397.93,239.24 L399.00,240.43 L400.07,241.60 L401.14,242.78 L402.21,243.95 L403.30,245.11 L404.38,246.27 L405.47,247.42 L406.57,248.57 L407.67,249.72 L408.77,250.86 L409.88,251.99 L411.00,253.12 L412.11,254.25 L413.24,255.37 L414.36,256.48 L415.49,257.59 L416.63,258.70 L417.77,259.80 L418.91,260.89 L420.06,261.99 L421.21,263.07 L422.37,264.16 L423.53,265.23 L424.69,266.31 L425.86,267.37 L427.03,268.44 L428.21,269.50 L429.39,270.55 L430.58,271.60 L431.76,272.65 L432.96,273.69 L434.15,274.72 L435.35,275.76 L436.56,276.78 L437.77,277.81 L438.98,278.83 L440.19,279.84 L441.41,280.85 L442.64,281.86 L443.86,282.86 L445.09,283.85 L446.33,284.85 L447.56,285.83 L448.81,286.82 L450.05,287.80 L451.30,288.77 L452.55,289.74 L453.81,290.71 L455.06,291.67 L456.33,292.63 L457.59,293.59 L458.86,294.54 L460.13,295.48 L461.41,296.42 L462.69,297.36 L463.97,298.29 L465.25,299.22 L466.54,300.15 L467.83,301.07 L469.13,301.99 L470.43,302.90 L471.73,303.81 L473.03,304.71 L474.34,305.61 L475.65,306.51 L476.96,307.40 L478.28,308.29 L479.60,309.18 L480.92,310.06 L482.24,310.94 L483.57,311.81 L484.90,312.68 L486.23,313.55 L487.57,314.41 L488.91,315.27 L490.25,316.12 L491.59,316.97 L492.94,317.82 L494.29,318.66 L495.64,319.50 L497.00,320.34 L498.35,321.17 L499.71,322.00 L501.07,322.82 L502.44,323.64 L503.81,324.46 L505.18,325.28 L506.55,326.09 L507.92,326.89 L509.30,327.70 L510.68,328.50 L512.06,329.29 L513.44,330.09 L514.83,330.87 L516.21,331.66 L517.60,332.44 L518.99,333.22 L520.39,334.00 L521.79,334.77 L523.18,335.54 L524.58,336.30 L525.99,337.06 L527.39,337.82 L528.80,338.58 L530.20,339.33 L531.61,340.08 L533.03,340.82 L534.44,341.56 L535.85,342.30 L537.27,343.04 L538.69,343.77 L540.11,344.50 L541.53,345.23 L542.96,345.95 L544.38,346.67 L545.81,347.38 L547.24,348.10 L548.67,348.81 L550.10,349.51 L551.54,350.22 L552.97,350.92 L554.41,351.62 L555.85,352.31 L557.29,353.00 L558.73,353.69 L560.17,354.38 L561.61,355.06 L563.06,355.74 L564.50,356.42 L565.95,357.09 L567.40,357.76 L568.85,358.43 L570.30,359.10 L571.75,359.76 L573.20,360.42 L574.66,361.08 L576.11,361.73 L577.57,362.38 L579.03,363.03 L580.49,363.68 L581.94,364.32 L583.40,364.96 L584.87,365.60 L586.33,366.23 L587.79,366.87 L589.25,367.50 L590.72,368.12 L592.18,368.75 L593.65,369.37 L595.12,369.99 L596.58,370.61 L598.05,371.22 L599.52,371.83 L600.99,372.44 L602.46,373.05 L603.93,373.65 L605.40,374.25 L606.87,374.85 L608.34,375.45 L609.81,376.05 L611.28,376.64 L612.76,377.23 L614.23,377.81 L615.70,378.40 L617.18,378.98 L618.65,379.56 L620.13,380.14 L621.60,380.72 L623.08,381.29 L624.55,381.86 L626.03,382.43 L627.50,383.00" fill="none" stroke="#0000ff" stroke-width="3.3" stroke-linejoin="round" stroke-linecap="round"/>
<line x1="126.0" y1="57.4" x2="167.5" y2="57.4" stroke="#000" stroke-width="3.6" stroke-linecap="round"/>
<text transform="translate(174.84,62.00) scale(1.1587,1)" font-size="19.73" font-weight="normal" stroke-width="0.51">4+i*1</text>
<line x1="126.0" y1="90.4" x2="167.5" y2="90.4" stroke="#ff0000" stroke-width="3.6" stroke-linecap="round"/>
<text transform="translate(174.84,94.80) scale(1.1751,1)" font-size="19.45" font-weight="normal" stroke-width="0.51">4+i*2</text>
<line x1="126.0" y1="119.0" x2="167.5" y2="119.0" stroke="#0000ff" stroke-width="3.6" stroke-linecap="round"/>
<text transform="translate(174.84,124.60) scale(1.1536,1)" font-size="19.73" font-weight="normal" stroke-width="0.51">4+i*5</text>
<line x1="135.0" y1="166.6" x2="265.5" y2="166.6" stroke="#2f5fbe" stroke-width="2.8"/>
<polygon points="124.6,166.6 136,160.8 136,172.4" fill="#2f5fbe"/>
<line x1="472.4" y1="296.4" x2="601.0" y2="296.4" stroke="#2f5fbe" stroke-width="2.8"/>
<polygon points="611.8,296.4 600.5,290.8 600.5,302.2" fill="#2f5fbe"/>
<text transform="translate(0.90,32.90) scale(1.0246,1)" font-size="40.96" font-weight="bold" stroke-width="0.20">(a)</text>
<text transform="translate(491.48,76.60) scale(0.9985,1)" font-size="31.29" font-weight="normal" stroke-width="0.27">t=30 nm</text>
<text transform="translate(296.94,426.00) scale(1.0598,1)" font-size="29.45" font-weight="normal" stroke-width="0.31">Calculated</text>
<text transform="translate(269.74,515.40) scale(1.1076,1)" font-size="23.84" font-weight="normal" stroke-width="0.42">Wavelength (nm)</text>
<text transform="translate(39.72,298.91) rotate(-90) scale(0.9308,1)" font-size="28.38" font-weight="normal" stroke-width="0.33">Reflectance</text>
<text transform="translate(708.92,304.70) rotate(-90) scale(0.9349,1)" font-size="28.11" font-weight="normal" stroke-width="0.34">Reflectance</text>
<line x1="837.4" y1="17.7" x2="1370.8" y2="17.7" stroke="#5a5a5a" stroke-width="2.0"/>
<line x1="837.4" y1="16.7" x2="837.4" y2="453.3" stroke="#5a5a5a" stroke-width="2.0"/>
<line x1="1370.8" y1="16.7" x2="1370.8" y2="453.3" stroke="#5a5a5a" stroke-width="2.0"/>
<line x1="837.4" y1="452.3" x2="1305.0" y2="452.3" stroke="#5a5a5a" stroke-width="2.0"/>
<line x1="1331.0" y1="452.3" x2="1370.8" y2="452.3" stroke="#5a5a5a" stroke-width="2.0"/>
<rect x="1317.3" y="455.4" width="2" height="2" fill="#8a8a8a"/>
<line x1="837.4" y1="452.3" x2="837.4" y2="460.3" stroke="#5a5a5a" stroke-width="2.0"/>
<text transform="translate(812.25,485.44) scale(1.0471,1)" font-size="26.34" font-weight="normal" stroke-width="0.37">400</text>
<line x1="890.7" y1="452.3" x2="890.7" y2="456.8" stroke="#5a5a5a" stroke-width="2.0"/>
<line x1="944.1" y1="452.3" x2="944.1" y2="460.3" stroke="#5a5a5a" stroke-width="2.0"/>
<text transform="translate(920.36,485.44) scale(1.0602,1)" font-size="26.34" font-weight="normal" stroke-width="0.37">500</text>
<line x1="997.4" y1="452.3" x2="997.4" y2="456.8" stroke="#5a5a5a" stroke-width="2.0"/>
<line x1="1050.8" y1="452.3" x2="1050.8" y2="460.3" stroke="#5a5a5a" stroke-width="2.0"/>
<text transform="translate(1025.65,485.44) scale(1.0669,1)" font-size="26.34" font-weight="normal" stroke-width="0.37">600</text>
<line x1="1104.1" y1="452.3" x2="1104.1" y2="456.8" stroke="#5a5a5a" stroke-width="2.0"/>
<line x1="1157.4" y1="452.3" x2="1157.4" y2="460.3" stroke="#5a5a5a" stroke-width="2.0"/>
<text transform="translate(1132.83,485.44) scale(1.0669,1)" font-size="26.34" font-weight="normal" stroke-width="0.37">700</text>
<line x1="1210.8" y1="452.3" x2="1210.8" y2="456.8" stroke="#5a5a5a" stroke-width="2.0"/>
<line x1="1264.1" y1="452.3" x2="1264.1" y2="460.3" stroke="#5a5a5a" stroke-width="2.0"/>
<text transform="translate(1240.40,485.44) scale(1.0602,1)" font-size="26.34" font-weight="normal" stroke-width="0.37">800</text>
<line x1="1370.8" y1="452.3" x2="1370.8" y2="460.3" stroke="#5a5a5a" stroke-width="2.0"/>
<text transform="translate(1346.89,485.44) scale(1.0669,1)" font-size="26.34" font-weight="normal" stroke-width="0.37">900</text>
<line x1="827.9" y1="452.3" x2="837.4" y2="452.3" stroke="#5a5a5a" stroke-width="2.0"/>
<text transform="translate(784.50,459.14) scale(1.0407,1)" font-size="26.48" font-weight="normal" stroke-width="0.37">0.0</text>
<line x1="831.9" y1="408.8" x2="837.4" y2="408.8" stroke="#5a5a5a" stroke-width="2.0"/>
<line x1="827.9" y1="365.4" x2="837.4" y2="365.4" stroke="#5a5a5a" stroke-width="2.0"/>
<text transform="translate(784.49,372.22) scale(1.0487,1)" font-size="26.48" font-weight="normal" stroke-width="0.37">0.2</text>
<line x1="831.9" y1="321.9" x2="837.4" y2="321.9" stroke="#5a5a5a" stroke-width="2.0"/>
<line x1="827.9" y1="278.5" x2="837.4" y2="278.5" stroke="#5a5a5a" stroke-width="2.0"/>
<text transform="translate(784.51,285.30) scale(1.0328,1)" font-size="26.48" font-weight="normal" stroke-width="0.37">0.4</text>
<line x1="831.9" y1="235.0" x2="837.4" y2="235.0" stroke="#5a5a5a" stroke-width="2.0"/>
<line x1="827.9" y1="191.5" x2="837.4" y2="191.5" stroke="#5a5a5a" stroke-width="2.0"/>
<text transform="translate(784.50,198.38) scale(1.0407,1)" font-size="26.48" font-weight="normal" stroke-width="0.37">0.6</text>
<line x1="831.9" y1="148.1" x2="837.4" y2="148.1" stroke="#5a5a5a" stroke-width="2.0"/>
<line x1="827.9" y1="104.6" x2="837.4" y2="104.6" stroke="#5a5a5a" stroke-width="2.0"/>
<text transform="translate(784.50,111.46) scale(1.0407,1)" font-size="26.48" font-weight="normal" stroke-width="0.37">0.8</text>
<line x1="831.9" y1="61.2" x2="837.4" y2="61.2" stroke="#5a5a5a" stroke-width="2.0"/>
<line x1="827.9" y1="17.7" x2="837.4" y2="17.7" stroke="#5a5a5a" stroke-width="2.0"/>
<text transform="translate(783.33,24.54) scale(1.0735,1)" font-size="26.48" font-weight="normal" stroke-width="0.37">1.0</text>
<path d="M838.50,281.99 L839.52,282.55 L840.53,283.11 L841.54,283.67 L842.55,284.23 L843.56,284.79 L844.57,285.35 L845.58,285.92 L846.59,286.48 L847.60,287.05 L848.61,287.61 L849.62,288.18 L850.62,288.75 L851.63,289.32 L852.64,289.89 L853.64,290.47 L854.65,291.04 L855.65,291.62 L856.66,292.20 L857.66,292.78 L858.66,293.36 L859.66,293.95 L860.66,294.53 L861.66,295.12 L862.66,295.71 L863.65,296.30 L864.65,296.89 L865.64,297.49 L866.64,298.08 L867.63,298.68 L868.62,299.29 L869.61,299.89 L870.60,300.50 L871.59,301.10 L872.57,301.72 L873.56,302.33 L874.54,302.94 L875.52,303.56 L876.50,304.18 L877.48,304.81 L878.46,305.43 L879.43,306.06 L880.41,306.69 L881.38,307.33 L882.35,307.96 L883.32,308.60 L884.28,309.25 L885.25,309.89 L886.21,310.54 L887.18,311.19 L888.14,311.85 L889.09,312.51 L890.05,313.17 L891.00,313.83 L891.95,314.50 L892.90,315.17 L893.85,315.85 L894.80,316.53 L895.74,317.21 L896.68,317.89 L897.62,318.58 L898.56,319.27 L899.49,319.97 L900.42,320.67 L901.35,321.37 L902.28,322.08 L903.21,322.79 L904.13,323.51 L905.05,324.23 L905.96,324.95 L906.88,325.68 L907.79,326.41 L908.69,327.14 L909.60,327.88 L910.50,328.63 L911.39,329.37 L912.29,330.13 L913.18,330.88 L914.06,331.64 L914.94,332.41 L915.82,333.18 L916.69,333.95 L917.56,334.73 L918.42,335.51 L919.28,336.30 L920.14,337.09 L920.99,337.89 L921.83,338.69 L922.67,339.50 L923.50,340.31 L924.33,341.12 L925.15,341.94 L925.97,342.77 L926.78,343.60 L927.59,344.44 L928.39,345.28 L929.18,346.12 L929.97,346.97 L930.75,347.83 L931.52,348.69 L932.29,349.56 L933.05,350.43 L933.80,351.30 L934.55,352.19 L935.29,353.07 L936.02,353.97 L936.75,354.86 L937.47,355.77 L938.18,356.68 L938.88,357.59 L939.57,358.51 L940.26,359.44 L940.94,360.37 L941.61,361.31 L942.27,362.25 L942.93,363.20 L943.57,364.16 L944.21,365.12 L944.84,366.09 L945.46,367.06 L946.07,368.04 L946.67,369.02 L947.26,370.01 L947.85,371.01 L948.42,372.01 L948.99,373.02 L949.54,374.04 L950.09,375.06 L950.64,376.08 L951.18,377.11 L951.72,378.14 L952.25,379.17 L952.78,380.20 L953.31,381.24 L953.84,382.28 L954.37,383.32 L954.90,384.35 L955.43,385.39 L955.97,386.43 L956.51,387.47 L957.05,388.50 L957.60,389.54 L958.15,390.57 L958.72,391.60 L959.29,392.62 L959.87,393.64 L960.46,394.66 L961.06,395.67 L961.67,396.68 L962.30,397.68 L962.93,398.67 L963.58,399.66 L964.25,400.64 L964.93,401.61 L965.63,402.58 L966.35,403.53 L967.09,404.48 L967.84,405.41 L968.62,406.32 L969.42,407.20 L970.25,408.05 L971.11,408.85 L971.99,409.62 L972.91,410.33 L973.86,410.99 L974.84,411.59 L975.86,412.11 L976.92,412.57 L978.01,412.94 L979.12,413.21 L980.21,413.36 L981.26,413.38 L982.26,413.25 L983.22,412.99 L984.13,412.61 L985.00,412.11 L985.82,411.50 L986.60,410.80 L987.35,410.01 L988.06,409.15 L988.73,408.22 L989.37,407.23 L989.99,406.20 L990.57,405.12 L991.13,404.02 L991.66,402.90 L992.18,401.77 L992.67,400.64 L993.14,399.51 L993.60,398.38 L994.04,397.25 L994.45,396.11 L994.86,394.98 L995.24,393.84 L995.61,392.71 L995.97,391.58 L996.31,390.44 L996.64,389.30 L996.95,388.17 L997.25,387.03 L997.54,385.89 L997.82,384.76 L998.09,383.62 L998.35,382.48 L998.60,381.34 L998.84,380.20 L999.07,379.06 L999.30,377.92 L999.52,376.78 L999.73,375.64 L999.94,374.50 L1000.14,373.36 L1000.34,372.22 L1000.54,371.08 L1000.73,369.94 L1000.92,368.80 L1001.11,367.66 L1001.30,366.52 L1001.48,365.38 L1001.67,364.23 L1001.86,363.09 L1002.05,361.95 L1002.23,360.81 L1002.42,359.67 L1002.61,358.52 L1002.79,357.38 L1002.98,356.24 L1003.17,355.10 L1003.35,353.95 L1003.54,352.81 L1003.73,351.67 L1003.91,350.53 L1004.10,349.38 L1004.29,348.24 L1004.47,347.10 L1004.66,345.95 L1004.84,344.81 L1005.03,343.67 L1005.22,342.52 L1005.40,341.38 L1005.59,340.23 L1005.77,339.09 L1005.96,337.95 L1006.14,336.80 L1006.33,335.66 L1006.51,334.51 L1006.70,333.37 L1006.88,332.22 L1007.07,331.08 L1007.25,329.93 L1007.44,328.79 L1007.62,327.65 L1007.81,326.50 L1007.99,325.36 L1008.17,324.21 L1008.36,323.06 L1008.54,321.92 L1008.73,320.77 L1008.91,319.63 L1009.09,318.48 L1009.28,317.34 L1009.46,316.19 L1009.64,315.04 L1009.83,313.90 L1010.01,312.75 L1010.19,311.61 L1010.37,310.46 L1010.56,309.31 L1010.74,308.17 L1010.92,307.02 L1011.10,305.87 L1011.29,304.73 L1011.47,303.58 L1011.65,302.43 L1011.83,301.29 L1012.01,300.14 L1012.19,298.99 L1012.38,297.85 L1012.56,296.70 L1012.74,295.55 L1012.92,294.40 L1013.10,293.26 L1013.28,292.11 L1013.46,290.96 L1013.64,289.81 L1013.82,288.66 L1014.00,287.52 L1014.18,286.37 L1014.36,285.22 L1014.54,284.07 L1014.72,282.92 L1014.90,281.78 L1015.08,280.63 L1015.26,279.48 L1015.44,278.33 L1015.61,277.18 L1015.79,276.03 L1015.97,274.88 L1016.15,273.74 L1016.33,272.59 L1016.51,271.44 L1016.68,270.29 L1016.86,269.14 L1017.04,267.99 L1017.21,266.84 L1017.39,265.69 L1017.57,264.54 L1017.75,263.39 L1017.92,262.24 L1018.10,261.09 L1018.27,259.94 L1018.45,258.79 L1018.63,257.64 L1018.80,256.49 L1018.98,255.34 L1019.15,254.19 L1019.33,253.04 L1019.50,251.89 L1019.68,250.74 L1019.85,249.59 L1020.03,248.44 L1020.20,247.29 L1020.38,246.14 L1020.55,244.99 L1020.72,243.84 L1020.90,242.69 L1021.07,241.54 L1021.24,240.39 L1021.42,239.24 L1021.59,238.09 L1021.76,236.94 L1021.93,235.78 L1022.11,234.63 L1022.28,233.48 L1022.45,232.33 L1022.62,231.18 L1022.79,230.03 L1022.96,228.88 L1023.13,227.73 L1023.31,226.57 L1023.48,225.42 L1023.65,224.27 L1023.82,223.12 L1023.99,221.97 L1024.16,220.82 L1024.33,219.66 L1024.49,218.51 L1024.66,217.36 L1024.83,216.21 L1025.00,215.06 L1025.17,213.90 L1025.34,212.75 L1025.51,211.60 L1025.67,210.45 L1025.84,209.30 L1026.01,208.14 L1026.18,206.99 L1026.34,205.84 L1026.51,204.69 L1026.68,203.53 L1026.84,202.38 L1027.01,201.23 L1027.17,200.08 L1027.34,198.92 L1027.51,197.77 L1027.67,196.62 L1027.84,195.46 L1028.00,194.31 L1028.16,193.16 L1028.33,192.01 L1028.49,190.85 L1028.66,189.70 L1028.82,188.55 L1028.98,187.39 L1029.15,186.24 L1029.31,185.09 L1029.47,183.93 L1029.63,182.78 L1029.80,181.63 L1029.96,180.47 L1030.12,179.32 L1030.28,178.17 L1030.44,177.01 L1030.60,175.86 L1030.76,174.71 L1030.92,173.55 L1031.08,172.40 L1031.24,171.25 L1031.40,170.09 L1031.56,168.94 L1031.72,167.79 L1031.88,166.63 L1032.04,165.48 L1032.20,164.33 L1032.37,163.17 L1032.53,162.02 L1032.69,160.87 L1032.85,159.72 L1033.02,158.56 L1033.18,157.41 L1033.35,156.26 L1033.52,155.11 L1033.68,153.96 L1033.85,152.81 L1034.02,151.66 L1034.20,150.51 L1034.37,149.36 L1034.54,148.21 L1034.72,147.06 L1034.90,145.91 L1035.08,144.76 L1035.26,143.61 L1035.44,142.47 L1035.63,141.32 L1035.81,140.17 L1036.00,139.03 L1036.19,137.88 L1036.39,136.74 L1036.58,135.59 L1036.78,134.45 L1036.98,133.31 L1037.19,132.17 L1037.39,131.03 L1037.60,129.89 L1037.81,128.75 L1038.03,127.61 L1038.24,126.47 L1038.46,125.33 L1038.69,124.19 L1038.91,123.06 L1039.14,121.92 L1039.38,120.79 L1039.61,119.66 L1039.85,118.52 L1040.10,117.39 L1040.34,116.26 L1040.59,115.13 L1040.85,114.00 L1041.11,112.88 L1041.37,111.75 L1041.64,110.62 L1041.91,109.50 L1042.18,108.38 L1042.46,107.25 L1042.74,106.13 L1043.03,105.01 L1043.32,103.89 L1043.62,102.77 L1043.92,101.66 L1044.23,100.54 L1044.54,99.43 L1044.86,98.32 L1045.18,97.20 L1045.50,96.09 L1045.83,94.98 L1046.17,93.88 L1046.51,92.77 L1046.86,91.66 L1047.21,90.56 L1047.57,89.46 L1047.93,88.36 L1048.30,87.26 L1048.68,86.16 L1049.06,85.06 L1049.44,83.97 L1049.84,82.87 L1050.23,81.78 L1050.64,80.69 L1051.05,79.60 L1051.47,78.51 L1051.89,77.43 L1052.32,76.35 L1052.76,75.27 L1053.21,74.19 L1053.66,73.11 L1054.13,72.04 L1054.60,70.97 L1055.08,69.91 L1055.57,68.85 L1056.08,67.79 L1056.59,66.74 L1057.11,65.69 L1057.65,64.65 L1058.20,63.61 L1058.76,62.58 L1059.33,61.56 L1059.92,60.54 L1060.52,59.53 L1061.13,58.52 L1061.76,57.52 L1062.40,56.53 L1063.06,55.55 L1063.74,54.58 L1064.43,53.62 L1065.14,52.69 L1065.88,51.79 L1066.64,50.93 L1067.42,50.11 L1068.24,49.35 L1069.08,48.65 L1069.96,48.02 L1070.87,47.47 L1071.82,46.99 L1072.81,46.61 L1073.84,46.33 L1074.91,46.15 L1076.03,46.08 L1077.18,46.11 L1078.36,46.23 L1079.54,46.43 L1080.72,46.69 L1081.89,46.99 L1083.04,47.33 L1084.14,47.70 L1085.21,48.08 L1086.25,48.49 L1087.25,48.93 L1088.22,49.39 L1089.17,49.89 L1090.10,50.43 L1091.02,51.02 L1091.93,51.64 L1092.82,52.30 L1093.70,53.00 L1094.58,53.73 L1095.45,54.48 L1096.31,55.26 L1097.16,56.05 L1098.02,56.86 L1098.87,57.68 L1099.72,58.50 L1100.57,59.33 L1101.42,60.15 L1102.27,60.97 L1103.13,61.77 L1103.99,62.56 L1104.86,63.34 L1105.73,64.10 L1106.61,64.85 L1107.49,65.58 L1108.38,66.30 L1109.28,67.01 L1110.17,67.71 L1111.08,68.40 L1111.98,69.07 L1112.90,69.74 L1113.81,70.41 L1114.74,71.06 L1115.66,71.71 L1116.59,72.36 L1117.53,72.99 L1118.47,73.63 L1119.41,74.26 L1120.36,74.89 L1121.31,75.52 L1122.26,76.15 L1123.22,76.77 L1124.18,77.40 L1125.14,78.03 L1126.10,78.66 L1127.06,79.30 L1128.01,79.93 L1128.97,80.58 L1129.92,81.22 L1130.87,81.88 L1131.81,82.53 L1132.75,83.20 L1133.68,83.87 L1134.61,84.56 L1135.52,85.25 L1136.43,85.95 L1137.33,86.66 L1138.22,87.39 L1139.10,88.12 L1139.97,88.87 L1140.84,89.63 L1141.69,90.40 L1142.54,91.18 L1143.38,91.97 L1144.21,92.78 L1145.04,93.59 L1145.86,94.42 L1146.67,95.26 L1147.48,96.11 L1148.29,96.97 L1149.10,97.84 L1149.90,98.70 L1150.72,99.55 L1151.55,100.37 L1152.40,101.16 L1153.26,101.89 L1154.16,102.57 L1155.08,103.19 L1156.05,103.72 L1157.05,104.16 L1158.09,104.51 L1159.18,104.77 L1160.30,104.95 L1161.44,105.10 L1162.59,105.22 L1163.74,105.35 L1164.87,105.51 L1165.98,105.73 L1167.05,106.03 L1168.08,106.43 L1169.06,106.93 L1170.00,107.51 L1170.90,108.17 L1171.77,108.87 L1172.62,109.62 L1173.44,110.39 L1174.24,111.20 L1175.02,112.03 L1175.78,112.89 L1176.52,113.77 L1177.24,114.67 L1177.95,115.60 L1178.65,116.54 L1179.34,117.49 L1180.02,118.46 L1180.69,119.44 L1181.35,120.42 L1182.01,121.41 L1182.66,122.41 L1183.31,123.40 L1183.97,124.40 L1184.62,125.39 L1185.28,126.38 L1185.94,127.35 L1186.61,128.32 L1187.29,129.28 L1187.97,130.22 L1188.67,131.15 L1189.38,132.06 L1190.11,132.95 L1190.85,133.81 L1191.60,134.65 L1192.38,135.46 L1193.18,136.24 L1194.00,136.99 L1194.84,137.71 L1195.71,138.39 L1196.61,139.03 L1197.53,139.63 L1198.49,140.19 L1199.48,140.70 L1200.50,141.17 L1201.55,141.58 L1202.64,141.94 L1203.77,142.25 L1204.92,142.52 L1206.09,142.73 L1207.25,142.91 L1208.40,143.06 L1209.51,143.17 L1210.59,143.27 L1211.62,143.35 L1212.65,143.44 L1213.67,143.53 L1214.72,143.66 L1215.80,143.81 L1216.89,144.00 L1218.00,144.21 L1219.11,144.46 L1220.23,144.74 L1221.34,145.06 L1222.44,145.42 L1223.53,145.81 L1224.61,146.24 L1225.65,146.71 L1226.68,147.22 L1227.67,147.77 L1228.64,148.35 L1229.59,148.96 L1230.51,149.62 L1231.40,150.30 L1232.27,151.01 L1233.11,151.76 L1233.93,152.53 L1234.72,153.33 L1235.49,154.16 L1236.23,155.01 L1236.94,155.89 L1237.63,156.78 L1238.29,157.70 L1238.93,158.64 L1239.55,159.60 L1240.16,160.57 L1240.75,161.55 L1241.32,162.55 L1241.89,163.56 L1242.46,164.57 L1243.02,165.59 L1243.57,166.61 L1244.14,167.63 L1244.70,168.65 L1245.28,169.67 L1245.87,170.69 L1246.47,171.70 L1247.08,172.69 L1247.72,173.68 L1248.38,174.66 L1249.06,175.62 L1249.77,176.57 L1250.50,177.50 L1251.25,178.40 L1252.03,179.29 L1252.83,180.15 L1253.65,180.99 L1254.50,181.80 L1255.37,182.58 L1256.26,183.33 L1257.17,184.05 L1258.10,184.74 L1259.06,185.38 L1260.03,186.00 L1261.03,186.57 L1262.04,187.10 L1263.08,187.59 L1264.13,188.03 L1265.21,188.43 L1266.30,188.79 L1267.40,189.12 L1268.50,189.44 L1269.61,189.75 L1270.70,190.06 L1271.78,190.39 L1272.85,190.75 L1273.89,191.14 L1274.90,191.58 L1275.88,192.08 L1276.82,192.64 L1277.73,193.26 L1278.61,193.94 L1279.46,194.66 L1280.28,195.43 L1281.09,196.23 L1281.88,197.07 L1282.65,197.93 L1283.42,198.82 L1284.18,199.72 L1284.93,200.64 L1285.68,201.56 L1286.44,202.48 L1287.21,203.40 L1287.98,204.31 L1288.77,205.20 L1289.58,206.08 L1290.40,206.93 L1291.25,207.74 L1292.13,208.53 L1293.03,209.28 L1293.95,210.01 L1294.89,210.71 L1295.84,211.38 L1296.82,212.04 L1297.80,212.67 L1298.80,213.29 L1299.80,213.90 L1300.81,214.50 L1301.83,215.09 L1302.85,215.67 L1303.87,216.25 L1304.89,216.83 L1305.90,217.41 L1306.91,218.00 L1307.91,218.60 L1308.90,219.20 L1309.88,219.82 L1310.85,220.45 L1311.80,221.10 L1312.73,221.77 L1313.64,222.46 L1314.52,223.18 L1315.39,223.92 L1316.22,224.70 L1317.03,225.50 L1317.81,226.35 L1318.55,227.23 L1319.26,228.15 L1319.93,229.12 L1320.57,230.12 L1321.18,231.15 L1321.78,232.20 L1322.38,233.25 L1322.97,234.30 L1323.59,235.32 L1324.22,236.32 L1324.89,237.28 L1325.60,238.19 L1326.37,239.03 L1327.19,239.80 L1328.07,240.49 L1329.00,241.13 L1329.98,241.72 L1330.98,242.28 L1332.00,242.83 L1333.02,243.36 L1334.05,243.91 L1335.06,244.48 L1336.05,245.08 L1337.01,245.72 L1337.96,246.40 L1338.88,247.10 L1339.79,247.82 L1340.68,248.57 L1341.57,249.33 L1342.45,250.10 L1343.32,250.88 L1344.19,251.66 L1345.07,252.43 L1345.94,253.20 L1346.82,253.97 L1347.71,254.72 L1348.60,255.47 L1349.50,256.21 L1350.39,256.95 L1351.29,257.68 L1352.19,258.41 L1353.09,259.14 L1353.99,259.87 L1354.89,260.60 L1355.78,261.33 L1356.68,262.07 L1357.57,262.80 L1358.45,263.54 L1359.33,264.29 L1360.21,265.05 L1361.08,265.81 L1361.94,266.58 L1362.79,267.36 L1363.64,268.15 L1364.47,268.95 L1365.30,269.77 L1366.11,270.60 L1366.92,271.45 L1367.71,272.31 L1368.49,273.19 L1369.25,274.08 L1370.00,275.00" fill="none" stroke="#000000" stroke-width="3.3" stroke-linejoin="round" stroke-linecap="round"/>
<path d="M838.50,290.60 L839.50,291.24 L840.51,291.89 L841.51,292.53 L842.51,293.17 L843.52,293.81 L844.52,294.46 L845.52,295.10 L846.52,295.74 L847.52,296.39 L848.52,297.03 L849.52,297.67 L850.52,298.32 L851.52,298.96 L852.52,299.61 L853.52,300.26 L854.51,300.91 L855.51,301.55 L856.50,302.20 L857.50,302.86 L858.49,303.51 L859.48,304.16 L860.47,304.82 L861.46,305.47 L862.45,306.13 L863.44,306.79 L864.43,307.45 L865.41,308.11 L866.39,308.77 L867.38,309.44 L868.36,310.11 L869.34,310.78 L870.31,311.45 L871.29,312.12 L872.27,312.80 L873.24,313.47 L874.21,314.15 L875.18,314.84 L876.15,315.52 L877.11,316.21 L878.08,316.90 L879.04,317.59 L880.00,318.28 L880.96,318.98 L881.91,319.68 L882.87,320.39 L883.82,321.09 L884.77,321.80 L885.71,322.52 L886.66,323.23 L887.60,323.95 L888.54,324.67 L889.48,325.40 L890.41,326.13 L891.34,326.86 L892.27,327.60 L893.20,328.34 L894.13,329.08 L895.05,329.83 L895.97,330.58 L896.88,331.34 L897.80,332.10 L898.71,332.86 L899.61,333.63 L900.52,334.40 L901.42,335.18 L902.32,335.96 L903.21,336.74 L904.10,337.53 L904.99,338.33 L905.88,339.13 L906.76,339.93 L907.63,340.74 L908.51,341.55 L909.38,342.36 L910.25,343.18 L911.11,344.01 L911.97,344.84 L912.82,345.67 L913.68,346.50 L914.52,347.35 L915.37,348.19 L916.21,349.04 L917.04,349.89 L917.87,350.75 L918.70,351.61 L919.52,352.48 L920.33,353.35 L921.15,354.22 L921.95,355.10 L922.76,355.98 L923.56,356.86 L924.35,357.75 L925.14,358.65 L925.92,359.54 L926.70,360.44 L927.47,361.35 L928.24,362.26 L929.00,363.17 L929.76,364.09 L930.51,365.01 L931.25,365.93 L932.00,366.86 L932.73,367.79 L933.46,368.73 L934.18,369.66 L934.90,370.61 L935.61,371.55 L936.32,372.50 L937.02,373.46 L937.71,374.41 L938.40,375.38 L939.08,376.34 L939.75,377.31 L940.42,378.28 L941.08,379.25 L941.74,380.23 L942.39,381.22 L943.03,382.20 L943.67,383.19 L944.29,384.18 L944.92,385.18 L945.53,386.18 L946.14,387.18 L946.75,388.18 L947.35,389.19 L947.95,390.20 L948.54,391.21 L949.14,392.22 L949.74,393.24 L950.34,394.25 L950.94,395.26 L951.54,396.28 L952.15,397.29 L952.76,398.31 L953.38,399.32 L954.00,400.33 L954.63,401.34 L955.27,402.35 L955.92,403.35 L956.59,404.36 L957.26,405.36 L957.94,406.35 L958.64,407.35 L959.36,408.34 L960.08,409.32 L960.83,410.30 L961.59,411.28 L962.37,412.25 L963.17,413.22 L963.99,414.18 L964.82,415.13 L965.68,416.07 L966.56,416.99 L967.46,417.86 L968.38,418.69 L969.31,419.47 L970.26,420.17 L971.23,420.80 L972.21,421.34 L973.21,421.78 L974.22,422.12 L975.25,422.33 L976.27,422.42 L977.29,422.39 L978.28,422.24 L979.24,421.96 L980.16,421.57 L981.05,421.07 L981.91,420.46 L982.73,419.77 L983.52,418.99 L984.28,418.13 L985.01,417.21 L985.71,416.24 L986.38,415.21 L987.03,414.15 L987.66,413.05 L988.26,411.93 L988.84,410.80 L989.39,409.66 L989.93,408.53 L990.45,407.39 L990.95,406.24 L991.43,405.10 L991.89,403.96 L992.33,402.82 L992.76,401.67 L993.18,400.52 L993.57,399.38 L993.96,398.23 L994.33,397.08 L994.68,395.93 L995.03,394.78 L995.36,393.63 L995.68,392.48 L995.98,391.33 L996.28,390.17 L996.57,389.02 L996.85,387.87 L997.12,386.71 L997.39,385.55 L997.65,384.40 L997.90,383.24 L998.14,382.08 L998.38,380.93 L998.62,379.77 L998.85,378.61 L999.08,377.45 L999.30,376.29 L999.53,375.13 L999.75,373.97 L999.97,372.81 L1000.19,371.65 L1000.40,370.49 L1000.62,369.32 L1000.83,368.16 L1001.04,367.00 L1001.25,365.83 L1001.46,364.67 L1001.67,363.51 L1001.88,362.34 L1002.08,361.18 L1002.28,360.01 L1002.48,358.85 L1002.68,357.68 L1002.88,356.52 L1003.07,355.35 L1003.27,354.18 L1003.46,353.02 L1003.65,351.85 L1003.84,350.68 L1004.03,349.51 L1004.22,348.35 L1004.41,347.18 L1004.59,346.01 L1004.77,344.84 L1004.96,343.67 L1005.14,342.50 L1005.32,341.33 L1005.49,340.16 L1005.67,338.99 L1005.85,337.82 L1006.02,336.65 L1006.19,335.47 L1006.37,334.30 L1006.54,333.13 L1006.71,331.96 L1006.87,330.79 L1007.04,329.61 L1007.21,328.44 L1007.37,327.27 L1007.54,326.09 L1007.70,324.92 L1007.86,323.75 L1008.02,322.57 L1008.18,321.40 L1008.34,320.22 L1008.50,319.05 L1008.65,317.87 L1008.81,316.70 L1008.97,315.52 L1009.12,314.34 L1009.27,313.17 L1009.42,311.99 L1009.58,310.81 L1009.73,309.64 L1009.88,308.46 L1010.03,307.28 L1010.17,306.11 L1010.32,304.93 L1010.47,303.75 L1010.61,302.57 L1010.76,301.39 L1010.90,300.22 L1011.05,299.04 L1011.19,297.86 L1011.33,296.68 L1011.47,295.50 L1011.61,294.32 L1011.75,293.14 L1011.89,291.96 L1012.03,290.78 L1012.17,289.60 L1012.31,288.42 L1012.45,287.24 L1012.58,286.06 L1012.72,284.88 L1012.86,283.70 L1012.99,282.52 L1013.13,281.34 L1013.26,280.16 L1013.40,278.98 L1013.53,277.79 L1013.66,276.61 L1013.80,275.43 L1013.93,274.25 L1014.06,273.07 L1014.19,271.89 L1014.32,270.70 L1014.46,269.52 L1014.59,268.34 L1014.72,267.16 L1014.85,265.98 L1014.98,264.79 L1015.11,263.61 L1015.24,262.43 L1015.37,261.25 L1015.50,260.06 L1015.63,258.88 L1015.76,257.70 L1015.89,256.51 L1016.02,255.33 L1016.15,254.15 L1016.27,252.96 L1016.40,251.78 L1016.53,250.60 L1016.66,249.42 L1016.79,248.23 L1016.92,247.05 L1017.05,245.86 L1017.18,244.68 L1017.31,243.50 L1017.44,242.31 L1017.57,241.13 L1017.70,239.95 L1017.83,238.76 L1017.96,237.58 L1018.09,236.40 L1018.22,235.21 L1018.35,234.03 L1018.48,232.85 L1018.61,231.66 L1018.74,230.48 L1018.87,229.30 L1019.00,228.11 L1019.13,226.93 L1019.27,225.74 L1019.40,224.56 L1019.53,223.38 L1019.67,222.19 L1019.80,221.01 L1019.93,219.83 L1020.07,218.64 L1020.20,217.46 L1020.34,216.28 L1020.48,215.09 L1020.61,213.91 L1020.75,212.73 L1020.89,211.54 L1021.03,210.36 L1021.16,209.18 L1021.30,208.00 L1021.44,206.81 L1021.58,205.63 L1021.72,204.45 L1021.87,203.26 L1022.01,202.08 L1022.15,200.90 L1022.30,199.72 L1022.44,198.54 L1022.58,197.35 L1022.73,196.17 L1022.88,194.99 L1023.02,193.81 L1023.17,192.63 L1023.32,191.44 L1023.47,190.26 L1023.62,189.08 L1023.77,187.90 L1023.93,186.72 L1024.08,185.54 L1024.23,184.36 L1024.39,183.18 L1024.55,182.00 L1024.70,180.82 L1024.86,179.64 L1025.02,178.46 L1025.18,177.28 L1025.34,176.10 L1025.51,174.92 L1025.67,173.74 L1025.83,172.56 L1026.00,171.38 L1026.17,170.20 L1026.34,169.02 L1026.51,167.85 L1026.68,166.67 L1026.85,165.49 L1027.03,164.32 L1027.20,163.14 L1027.38,161.96 L1027.56,160.79 L1027.74,159.61 L1027.92,158.44 L1028.10,157.26 L1028.29,156.09 L1028.47,154.91 L1028.66,153.74 L1028.85,152.57 L1029.04,151.40 L1029.24,150.22 L1029.43,149.05 L1029.63,147.88 L1029.82,146.71 L1030.02,145.54 L1030.23,144.37 L1030.43,143.20 L1030.64,142.03 L1030.84,140.86 L1031.05,139.69 L1031.26,138.53 L1031.48,137.36 L1031.69,136.19 L1031.91,135.03 L1032.13,133.86 L1032.35,132.70 L1032.57,131.53 L1032.80,130.37 L1033.03,129.21 L1033.26,128.05 L1033.49,126.89 L1033.72,125.72 L1033.96,124.56 L1034.20,123.40 L1034.44,122.25 L1034.68,121.09 L1034.93,119.93 L1035.18,118.77 L1035.43,117.62 L1035.68,116.46 L1035.94,115.31 L1036.20,114.15 L1036.46,113.00 L1036.72,111.85 L1036.99,110.69 L1037.26,109.54 L1037.53,108.39 L1037.80,107.24 L1038.08,106.10 L1038.36,104.95 L1038.64,103.80 L1038.93,102.65 L1039.21,101.51 L1039.50,100.36 L1039.80,99.22 L1040.09,98.08 L1040.39,96.94 L1040.69,95.80 L1041.00,94.65 L1041.31,93.52 L1041.62,92.38 L1041.93,91.24 L1042.25,90.10 L1042.57,88.97 L1042.89,87.83 L1043.22,86.70 L1043.56,85.57 L1043.90,84.44 L1044.25,83.31 L1044.61,82.19 L1044.98,81.07 L1045.36,79.95 L1045.75,78.84 L1046.16,77.73 L1046.58,76.63 L1047.01,75.53 L1047.47,74.44 L1047.94,73.35 L1048.43,72.26 L1048.93,71.19 L1049.46,70.12 L1050.01,69.05 L1050.59,68.00 L1051.19,66.95 L1051.81,65.91 L1052.46,64.88 L1053.13,63.85 L1053.84,62.84 L1054.57,61.83 L1055.34,60.84 L1056.13,59.85 L1056.95,58.89 L1057.80,57.95 L1058.67,57.03 L1059.57,56.16 L1060.49,55.33 L1061.43,54.55 L1062.39,53.82 L1063.36,53.16 L1064.35,52.57 L1065.35,52.04 L1066.36,51.60 L1067.38,51.25 L1068.41,50.99 L1069.44,50.83 L1070.48,50.76 L1071.53,50.79 L1072.58,50.90 L1073.63,51.08 L1074.69,51.34 L1075.76,51.67 L1076.83,52.05 L1077.90,52.49 L1078.98,52.99 L1080.05,53.53 L1081.10,54.12 L1082.15,54.75 L1083.17,55.42 L1084.17,56.13 L1085.14,56.87 L1086.07,57.64 L1086.97,58.44 L1087.83,59.27 L1088.66,60.12 L1089.45,60.99 L1090.22,61.87 L1090.97,62.78 L1091.69,63.69 L1092.40,64.61 L1093.10,65.55 L1093.79,66.48 L1094.48,67.42 L1095.17,68.36 L1095.86,69.30 L1096.55,70.23 L1097.26,71.16 L1097.98,72.07 L1098.71,72.98 L1099.46,73.87 L1100.22,74.76 L1101.00,75.63 L1101.78,76.50 L1102.58,77.36 L1103.39,78.21 L1104.21,79.06 L1105.04,79.89 L1105.87,80.73 L1106.72,81.55 L1107.57,82.37 L1108.44,83.19 L1109.30,84.00 L1110.18,84.80 L1111.06,85.60 L1111.94,86.40 L1112.83,87.19 L1113.72,87.98 L1114.61,88.77 L1115.51,89.56 L1116.41,90.34 L1117.31,91.13 L1118.21,91.91 L1119.12,92.69 L1120.02,93.47 L1120.92,94.26 L1121.82,95.04 L1122.71,95.82 L1123.61,96.61 L1124.50,97.40 L1125.38,98.19 L1126.26,98.98 L1127.14,99.78 L1128.02,100.58 L1128.89,101.38 L1129.75,102.18 L1130.61,102.99 L1131.47,103.80 L1132.33,104.61 L1133.18,105.42 L1134.02,106.24 L1134.87,107.06 L1135.70,107.89 L1136.54,108.72 L1137.37,109.55 L1138.20,110.38 L1139.03,111.22 L1139.85,112.06 L1140.67,112.91 L1141.49,113.75 L1142.30,114.60 L1143.11,115.46 L1143.92,116.32 L1144.72,117.18 L1145.53,118.05 L1146.33,118.91 L1147.12,119.79 L1147.92,120.66 L1148.71,121.54 L1149.51,122.40 L1150.32,123.26 L1151.14,124.09 L1151.97,124.90 L1152.83,125.69 L1153.70,126.44 L1154.59,127.14 L1155.52,127.81 L1156.47,128.42 L1157.46,128.98 L1158.47,129.50 L1159.50,130.00 L1160.53,130.49 L1161.55,130.98 L1162.56,131.50 L1163.56,132.04 L1164.54,132.60 L1165.50,133.18 L1166.46,133.79 L1167.39,134.42 L1168.31,135.07 L1169.22,135.75 L1170.11,136.44 L1170.98,137.17 L1171.83,137.91 L1172.67,138.68 L1173.49,139.48 L1174.30,140.30 L1175.08,141.14 L1175.85,142.01 L1176.60,142.90 L1177.33,143.83 L1178.04,144.77 L1178.73,145.75 L1179.41,146.74 L1180.08,147.75 L1180.73,148.78 L1181.38,149.82 L1182.02,150.87 L1182.65,151.92 L1183.29,152.97 L1183.93,154.02 L1184.57,155.06 L1185.22,156.09 L1185.89,157.11 L1186.56,158.11 L1187.25,159.09 L1187.96,160.04 L1188.69,160.97 L1189.44,161.87 L1190.21,162.73 L1191.02,163.55 L1191.86,164.33 L1192.73,165.06 L1193.63,165.74 L1194.57,166.39 L1195.54,166.98 L1196.53,167.54 L1197.56,168.07 L1198.61,168.56 L1199.68,169.02 L1200.77,169.45 L1201.88,169.86 L1203.01,170.25 L1204.15,170.62 L1205.30,170.98 L1206.47,171.32 L1207.64,171.65 L1208.82,171.97 L1210.00,172.29 L1211.19,172.61 L1212.37,172.93 L1213.56,173.26 L1214.74,173.60 L1215.91,173.94 L1217.08,174.30 L1218.24,174.67 L1219.39,175.06 L1220.52,175.46 L1221.64,175.89 L1222.75,176.33 L1223.84,176.80 L1224.91,177.29 L1225.96,177.81 L1226.98,178.35 L1227.99,178.92 L1228.97,179.52 L1229.92,180.15 L1230.84,180.82 L1231.73,181.52 L1232.60,182.25 L1233.43,183.03 L1234.22,183.84 L1234.99,184.69 L1235.72,185.57 L1236.43,186.48 L1237.11,187.42 L1237.77,188.39 L1238.42,189.37 L1239.05,190.38 L1239.67,191.40 L1240.27,192.44 L1240.88,193.49 L1241.47,194.54 L1242.07,195.60 L1242.67,196.66 L1243.28,197.71 L1243.89,198.77 L1244.51,199.81 L1245.15,200.85 L1245.80,201.87 L1246.47,202.88 L1247.17,203.87 L1247.89,204.83 L1248.63,205.78 L1249.39,206.70 L1250.17,207.60 L1250.98,208.48 L1251.81,209.34 L1252.66,210.17 L1253.53,210.97 L1254.42,211.75 L1255.32,212.51 L1256.25,213.23 L1257.19,213.94 L1258.16,214.61 L1259.13,215.26 L1260.13,215.88 L1261.14,216.47 L1262.17,217.03 L1263.21,217.56 L1264.27,218.06 L1265.34,218.53 L1266.43,218.97 L1267.53,219.37 L1268.64,219.76 L1269.75,220.13 L1270.85,220.50 L1271.95,220.89 L1273.03,221.31 L1274.09,221.76 L1275.12,222.26 L1276.13,222.80 L1277.11,223.38 L1278.07,224.01 L1279.01,224.67 L1279.92,225.38 L1280.81,226.13 L1281.68,226.90 L1282.54,227.71 L1283.38,228.54 L1284.21,229.39 L1285.04,230.25 L1285.87,231.11 L1286.71,231.96 L1287.55,232.81 L1288.40,233.64 L1289.27,234.45 L1290.16,235.24 L1291.08,235.98 L1292.02,236.69 L1292.99,237.36 L1293.98,238.00 L1295.00,238.60 L1296.03,239.18 L1297.07,239.74 L1298.13,240.29 L1299.20,240.82 L1300.26,241.35 L1301.34,241.88 L1302.40,242.41 L1303.47,242.95 L1304.53,243.49 L1305.57,244.06 L1306.60,244.65 L1307.62,245.26 L1308.61,245.90 L1309.58,246.58 L1310.52,247.30 L1311.44,248.06 L1312.33,248.85 L1313.20,249.67 L1314.05,250.51 L1314.89,251.37 L1315.72,252.24 L1316.54,253.12 L1317.36,254.00 L1318.18,254.87 L1319.01,255.72 L1319.84,256.57 L1320.68,257.39 L1321.53,258.19 L1322.38,258.98 L1323.24,259.75 L1324.12,260.51 L1324.99,261.26 L1325.88,261.99 L1326.78,262.71 L1327.68,263.42 L1328.59,264.12 L1329.52,264.81 L1330.44,265.50 L1331.38,266.17 L1332.33,266.84 L1333.28,267.51 L1334.25,268.17 L1335.22,268.83 L1336.20,269.49 L1337.18,270.14 L1338.18,270.79 L1339.17,271.45 L1340.17,272.11 L1341.17,272.76 L1342.16,273.43 L1343.16,274.09 L1344.15,274.77 L1345.14,275.44 L1346.12,276.13 L1347.09,276.82 L1348.05,277.52 L1349.01,278.23 L1349.96,278.95 L1350.91,279.67 L1351.85,280.39 L1352.78,281.13 L1353.71,281.86 L1354.64,282.61 L1355.56,283.35 L1356.47,284.11 L1357.39,284.86 L1358.30,285.62 L1359.20,286.39 L1360.11,287.15 L1361.01,287.92 L1361.91,288.69 L1362.81,289.47 L1363.71,290.24 L1364.61,291.02 L1365.51,291.80 L1366.40,292.58 L1367.30,293.36 L1368.20,294.14 L1369.10,294.92 L1370.00,295.70" fill="none" stroke="#ff0000" stroke-width="3.3" stroke-linejoin="round" stroke-linecap="round"/>
<path d="M838.50,311.60 L839.65,312.35 L840.80,313.10 L841.94,313.85 L843.09,314.59 L844.24,315.34 L845.38,316.08 L846.53,316.83 L847.67,317.57 L848.81,318.32 L849.95,319.07 L851.09,319.81 L852.22,320.56 L853.36,321.30 L854.49,322.05 L855.63,322.80 L856.76,323.55 L857.89,324.30 L859.02,325.05 L860.14,325.80 L861.27,326.56 L862.39,327.31 L863.52,328.07 L864.64,328.82 L865.75,329.58 L866.87,330.34 L867.99,331.10 L869.10,331.87 L870.21,332.64 L871.32,333.40 L872.43,334.17 L873.54,334.95 L874.64,335.72 L875.75,336.50 L876.85,337.28 L877.95,338.06 L879.04,338.85 L880.14,339.64 L881.23,340.43 L882.32,341.22 L883.41,342.02 L884.50,342.82 L885.58,343.63 L886.66,344.44 L887.75,345.25 L888.82,346.07 L889.90,346.88 L890.97,347.71 L892.05,348.54 L893.11,349.37 L894.18,350.20 L895.25,351.04 L896.31,351.89 L897.37,352.74 L898.42,353.59 L899.48,354.45 L900.53,355.31 L901.57,356.18 L902.61,357.05 L903.65,357.93 L904.69,358.81 L905.72,359.70 L906.74,360.60 L907.77,361.50 L908.78,362.40 L909.80,363.31 L910.80,364.23 L911.80,365.15 L912.80,366.08 L913.79,367.01 L914.78,367.95 L915.75,368.90 L916.73,369.85 L917.69,370.81 L918.65,371.78 L919.61,372.75 L920.55,373.73 L921.49,374.72 L922.42,375.71 L923.35,376.71 L924.27,377.72 L925.17,378.73 L926.08,379.75 L926.97,380.78 L927.85,381.82 L928.73,382.86 L929.60,383.91 L930.46,384.97 L931.31,386.04 L932.15,387.11 L932.98,388.19 L933.81,389.28 L934.63,390.37 L935.45,391.47 L936.26,392.57 L937.07,393.67 L937.87,394.77 L938.67,395.88 L939.48,396.98 L940.28,398.09 L941.08,399.19 L941.88,400.30 L942.68,401.40 L943.49,402.49 L944.30,403.59 L945.11,404.67 L945.93,405.76 L946.76,406.83 L947.59,407.90 L948.43,408.96 L949.27,410.02 L950.13,411.06 L951.00,412.09 L951.87,413.11 L952.76,414.13 L953.66,415.12 L954.57,416.11 L955.49,417.08 L956.43,418.04 L957.39,418.98 L958.36,419.90 L959.35,420.81 L960.35,421.70 L961.38,422.58 L962.42,423.43 L963.48,424.26 L964.56,425.08 L965.67,425.87 L966.79,426.64 L967.94,427.38 L969.12,428.10 L970.30,428.76 L971.50,429.31 L972.69,429.71 L973.88,429.91 L975.04,429.87 L976.17,429.53 L977.26,428.86 L978.31,427.86 L979.30,426.63 L980.24,425.30 L981.12,423.98 L981.93,422.73 L982.70,421.52 L983.42,420.34 L984.11,419.16 L984.76,417.98 L985.38,416.79 L985.97,415.60 L986.54,414.39 L987.09,413.18 L987.61,411.97 L988.12,410.74 L988.60,409.50 L989.08,408.26 L989.53,407.00 L989.97,405.74 L990.40,404.47 L990.81,403.19 L991.21,401.90 L991.60,400.61 L991.97,399.31 L992.33,398.01 L992.68,396.70 L993.02,395.38 L993.35,394.06 L993.67,392.74 L993.98,391.41 L994.28,390.08 L994.58,388.74 L994.86,387.40 L995.14,386.06 L995.42,384.72 L995.68,383.38 L995.95,382.03 L996.20,380.69 L996.46,379.34 L996.71,377.99 L996.95,376.65 L997.20,375.30 L997.44,373.96 L997.68,372.61 L997.92,371.27 L998.15,369.92 L998.38,368.58 L998.61,367.24 L998.84,365.89 L999.06,364.55 L999.29,363.21 L999.51,361.87 L999.73,360.53 L999.95,359.18 L1000.16,357.84 L1000.38,356.50 L1000.59,355.16 L1000.80,353.82 L1001.02,352.48 L1001.23,351.14 L1001.43,349.80 L1001.64,348.46 L1001.85,347.11 L1002.06,345.77 L1002.26,344.43 L1002.47,343.09 L1002.67,341.75 L1002.88,340.41 L1003.08,339.07 L1003.29,337.72 L1003.49,336.38 L1003.69,335.04 L1003.90,333.70 L1004.10,332.35 L1004.30,331.01 L1004.50,329.67 L1004.71,328.33 L1004.91,326.98 L1005.11,325.64 L1005.31,324.30 L1005.52,322.95 L1005.72,321.61 L1005.92,320.26 L1006.12,318.92 L1006.32,317.58 L1006.52,316.23 L1006.72,314.89 L1006.93,313.54 L1007.13,312.20 L1007.33,310.85 L1007.53,309.51 L1007.73,308.16 L1007.93,306.82 L1008.13,305.48 L1008.33,304.13 L1008.53,302.78 L1008.73,301.44 L1008.94,300.09 L1009.14,298.75 L1009.34,297.40 L1009.54,296.06 L1009.74,294.71 L1009.94,293.37 L1010.14,292.02 L1010.35,290.68 L1010.55,289.33 L1010.75,287.99 L1010.95,286.64 L1011.16,285.29 L1011.36,283.95 L1011.56,282.60 L1011.76,281.26 L1011.97,279.91 L1012.17,278.57 L1012.37,277.22 L1012.58,275.88 L1012.78,274.53 L1012.99,273.18 L1013.19,271.84 L1013.40,270.49 L1013.60,269.15 L1013.81,267.80 L1014.01,266.46 L1014.22,265.11 L1014.43,263.77 L1014.63,262.42 L1014.84,261.08 L1015.05,259.73 L1015.25,258.39 L1015.46,257.04 L1015.67,255.70 L1015.88,254.35 L1016.09,253.01 L1016.30,251.66 L1016.50,250.32 L1016.71,248.97 L1016.92,247.63 L1017.13,246.29 L1017.34,244.94 L1017.55,243.60 L1017.76,242.25 L1017.97,240.91 L1018.18,239.56 L1018.39,238.22 L1018.59,236.87 L1018.80,235.53 L1019.01,234.19 L1019.22,232.84 L1019.43,231.50 L1019.64,230.15 L1019.85,228.81 L1020.05,227.46 L1020.26,226.12 L1020.47,224.77 L1020.67,223.43 L1020.88,222.09 L1021.09,220.74 L1021.29,219.40 L1021.50,218.05 L1021.70,216.71 L1021.91,215.36 L1022.11,214.02 L1022.31,212.67 L1022.52,211.33 L1022.72,209.98 L1022.92,208.64 L1023.12,207.29 L1023.32,205.95 L1023.52,204.60 L1023.72,203.26 L1023.92,201.91 L1024.12,200.57 L1024.32,199.22 L1024.52,197.88 L1024.71,196.53 L1024.91,195.19 L1025.10,193.84 L1025.30,192.50 L1025.49,191.15 L1025.68,189.80 L1025.87,188.46 L1026.06,187.11 L1026.25,185.77 L1026.44,184.42 L1026.63,183.07 L1026.82,181.73 L1027.01,180.38 L1027.20,179.04 L1027.39,177.69 L1027.58,176.35 L1027.77,175.00 L1027.97,173.66 L1028.16,172.31 L1028.36,170.97 L1028.55,169.62 L1028.75,168.28 L1028.95,166.94 L1029.16,165.60 L1029.36,164.25 L1029.57,162.91 L1029.78,161.57 L1029.99,160.23 L1030.21,158.89 L1030.43,157.56 L1030.65,156.22 L1030.87,154.88 L1031.10,153.54 L1031.33,152.21 L1031.57,150.87 L1031.81,149.54 L1032.06,148.21 L1032.31,146.88 L1032.56,145.55 L1032.82,144.22 L1033.08,142.89 L1033.35,141.56 L1033.62,140.23 L1033.90,138.91 L1034.19,137.58 L1034.48,136.26 L1034.78,134.94 L1035.08,133.62 L1035.39,132.30 L1035.70,130.98 L1036.03,129.67 L1036.36,128.35 L1036.69,127.04 L1037.03,125.73 L1037.39,124.42 L1037.74,123.11 L1038.11,121.80 L1038.48,120.50 L1038.86,119.19 L1039.25,117.89 L1039.65,116.59 L1040.06,115.30 L1040.48,114.00 L1040.91,112.72 L1041.36,111.43 L1041.82,110.16 L1042.29,108.89 L1042.78,107.62 L1043.29,106.37 L1043.81,105.12 L1044.35,103.88 L1044.91,102.65 L1045.49,101.43 L1046.09,100.22 L1046.72,99.03 L1047.36,97.84 L1048.03,96.67 L1048.72,95.51 L1049.44,94.37 L1050.19,93.24 L1050.96,92.12 L1051.76,91.02 L1052.59,89.94 L1053.45,88.87 L1054.34,87.82 L1055.26,86.80 L1056.22,85.79 L1057.21,84.84 L1058.25,83.98 L1059.35,83.22 L1060.50,82.62 L1061.72,82.20 L1063.02,81.98 L1064.39,82.00 L1065.79,82.23 L1067.18,82.64 L1068.50,83.19 L1069.73,83.85 L1070.86,84.61 L1071.92,85.46 L1072.92,86.37 L1073.86,87.35 L1074.75,88.37 L1075.62,89.43 L1076.48,90.50 L1077.32,91.58 L1078.18,92.65 L1079.05,93.71 L1079.96,94.73 L1080.90,95.70 L1081.89,96.64 L1082.90,97.54 L1083.94,98.41 L1084.99,99.28 L1086.04,100.13 L1087.09,100.99 L1088.14,101.85 L1089.17,102.72 L1090.20,103.60 L1091.23,104.48 L1092.25,105.37 L1093.26,106.26 L1094.27,107.16 L1095.27,108.06 L1096.27,108.97 L1097.26,109.88 L1098.25,110.80 L1099.24,111.72 L1100.23,112.65 L1101.21,113.58 L1102.19,114.51 L1103.17,115.45 L1104.15,116.39 L1105.12,117.33 L1106.09,118.28 L1107.07,119.23 L1108.04,120.18 L1109.00,121.14 L1109.97,122.10 L1110.93,123.06 L1111.89,124.03 L1112.85,124.99 L1113.81,125.96 L1114.77,126.93 L1115.72,127.90 L1116.68,128.88 L1117.63,129.85 L1118.57,130.83 L1119.52,131.81 L1120.47,132.79 L1121.41,133.77 L1122.35,134.75 L1123.29,135.73 L1124.23,136.72 L1125.16,137.70 L1126.09,138.68 L1127.02,139.67 L1127.95,140.66 L1128.88,141.64 L1129.80,142.63 L1130.71,143.63 L1131.62,144.62 L1132.52,145.63 L1133.42,146.64 L1134.31,147.65 L1135.19,148.67 L1136.06,149.70 L1136.92,150.74 L1137.77,151.79 L1138.61,152.85 L1139.43,153.92 L1140.24,155.00 L1141.04,156.09 L1141.84,157.19 L1142.62,158.29 L1143.40,159.40 L1144.18,160.51 L1144.96,161.62 L1145.74,162.73 L1146.52,163.83 L1147.32,164.92 L1148.12,166.01 L1148.93,167.08 L1149.76,168.14 L1150.60,169.19 L1151.46,170.21 L1152.34,171.22 L1153.25,172.20 L1154.18,173.16 L1155.13,174.10 L1156.12,175.00 L1157.14,175.88 L1158.19,176.72 L1159.26,177.54 L1160.36,178.34 L1161.48,179.12 L1162.61,179.89 L1163.74,180.66 L1164.89,181.42 L1166.03,182.17 L1167.17,182.94 L1168.30,183.71 L1169.41,184.50 L1170.52,185.31 L1171.60,186.13 L1172.66,186.98 L1173.72,187.83 L1174.75,188.70 L1175.78,189.59 L1176.80,190.48 L1177.81,191.37 L1178.81,192.28 L1179.81,193.19 L1180.81,194.09 L1181.80,195.00 L1182.79,195.91 L1183.79,196.81 L1184.79,197.71 L1185.80,198.59 L1186.81,199.47 L1187.83,200.34 L1188.86,201.19 L1189.91,202.02 L1190.96,202.84 L1192.04,203.64 L1193.12,204.42 L1194.23,205.17 L1195.36,205.91 L1196.49,206.62 L1197.65,207.32 L1198.81,208.00 L1199.99,208.67 L1201.18,209.32 L1202.38,209.97 L1203.58,210.60 L1204.79,211.22 L1206.01,211.84 L1207.24,212.46 L1208.46,213.07 L1209.69,213.68 L1210.92,214.29 L1212.15,214.90 L1213.38,215.51 L1214.60,216.13 L1215.82,216.75 L1217.04,217.38 L1218.25,218.02 L1219.45,218.68 L1220.64,219.34 L1221.83,220.01 L1223.02,220.68 L1224.20,221.37 L1225.37,222.06 L1226.54,222.76 L1227.70,223.47 L1228.86,224.18 L1230.02,224.90 L1231.17,225.63 L1232.32,226.36 L1233.47,227.09 L1234.61,227.82 L1235.75,228.56 L1236.89,229.30 L1238.03,230.04 L1239.17,230.79 L1240.30,231.53 L1241.44,232.28 L1242.57,233.02 L1243.71,233.77 L1244.84,234.51 L1245.98,235.25 L1247.12,235.99 L1248.25,236.73 L1249.39,237.46 L1250.54,238.19 L1251.68,238.92 L1252.83,239.64 L1253.98,240.36 L1255.13,241.07 L1256.29,241.77 L1257.45,242.47 L1258.61,243.16 L1259.78,243.84 L1260.96,244.51 L1262.14,245.18 L1263.32,245.84 L1264.51,246.48 L1265.71,247.12 L1266.91,247.75 L1268.12,248.36 L1269.33,248.98 L1270.55,249.58 L1271.77,250.18 L1272.99,250.77 L1274.22,251.36 L1275.44,251.95 L1276.67,252.53 L1277.90,253.11 L1279.13,253.70 L1280.36,254.28 L1281.59,254.86 L1282.82,255.45 L1284.04,256.03 L1285.27,256.62 L1286.49,257.22 L1287.71,257.82 L1288.92,258.43 L1290.13,259.04 L1291.33,259.66 L1292.53,260.29 L1293.72,260.93 L1294.91,261.59 L1296.09,262.25 L1297.26,262.92 L1298.42,263.61 L1299.58,264.31 L1300.72,265.03 L1301.86,265.76 L1302.99,266.50 L1304.11,267.25 L1305.23,268.01 L1306.34,268.79 L1307.45,269.56 L1308.55,270.35 L1309.66,271.14 L1310.76,271.93 L1311.86,272.72 L1312.96,273.51 L1314.06,274.30 L1315.16,275.09 L1316.27,275.87 L1317.38,276.65 L1318.50,277.42 L1319.62,278.19 L1320.75,278.94 L1321.89,279.69 L1323.03,280.42 L1324.18,281.14 L1325.33,281.86 L1326.49,282.57 L1327.66,283.27 L1328.83,283.96 L1330.00,284.64 L1331.18,285.31 L1332.37,285.98 L1333.56,286.64 L1334.75,287.30 L1335.95,287.95 L1337.15,288.59 L1338.35,289.22 L1339.56,289.86 L1340.77,290.48 L1341.98,291.10 L1343.20,291.72 L1344.42,292.33 L1345.63,292.94 L1346.85,293.55 L1348.08,294.15 L1349.30,294.75 L1350.52,295.35 L1351.75,295.94 L1352.97,296.54 L1354.19,297.13 L1355.42,297.72 L1356.64,298.31 L1357.86,298.89 L1359.09,299.48 L1360.31,300.07 L1361.53,300.66 L1362.74,301.25 L1363.96,301.83 L1365.17,302.43 L1366.38,303.02 L1367.59,303.61 L1368.80,304.21 L1370.00,304.80" fill="none" stroke="#0000ff" stroke-width="3.3" stroke-linejoin="round" stroke-linecap="round"/>
<line x1="1195.8" y1="352.9" x2="1238.4" y2="352.9" stroke="#000" stroke-width="3.6" stroke-linecap="round"/>
<line x1="1195.8" y1="386.4" x2="1238.4" y2="386.4" stroke="#ff0000" stroke-width="3.6" stroke-linecap="round"/>
<line x1="1195.8" y1="416.1" x2="1238.4" y2="416.1" stroke="#0000ff" stroke-width="3.6" stroke-linecap="round"/>
<text transform="translate(1244.50,358.20) scale(1.1571,1)" font-size="20.72" font-weight="normal" stroke-width="0.49">Amp</text>
<text transform="translate(1245.28,392.10) scale(0.9908,1)" font-size="23.00" font-weight="normal" stroke-width="0.44">130 °C</text>
<text transform="translate(1245.17,420.70) scale(1.1063,1)" font-size="20.43" font-weight="normal" stroke-width="0.49">Cry</text>
<text transform="translate(714.49,32.90) scale(1.0325,1)" font-size="40.96" font-weight="bold" stroke-width="0.20">(b)</text>
<text transform="translate(1235.09,62.30) scale(1.0345,1)" font-size="29.57" font-weight="normal" stroke-width="0.31">t=30 nm</text>
<text transform="translate(1022.21,418.90) scale(1.0310,1)" font-size="30.14" font-weight="normal" stroke-width="0.30">Measured</text>
<text transform="translate(1001.93,521.50) scale(1.1346,1)" font-size="23.97" font-weight="normal" stroke-width="0.42">Wavelength (nm)</text>
<text transform="translate(771.61,309.27) rotate(-90) scale(0.9522,1)" font-size="28.51" font-weight="normal" stroke-width="0.33">Reflectance</text>
<text transform="translate(1406.79,32.20) scale(1.1071,1)" font-size="40.00" font-weight="bold" stroke-width="0.20">(c)</text>
<rect x="1464.0" y="37.5" width="155.0" height="105.5" fill="#2cfae0"/>
<rect x="1642.0" y="37.5" width="154.5" height="105.5" fill="#2efdfc"/>
<rect x="1463.6" y="212.0" width="152.0" height="103.4" fill="#dafd30"/>
<rect x="1641.3" y="210.5" width="155.3" height="102.2" fill="#f0f52a"/>
<rect x="1464.3" y="391.0" width="152.3" height="105.1" fill="#f9a59c"/>
<rect x="1641.9" y="390.0" width="154.9" height="106.1" fill="#f9b78b"/>
<rect x="1463.6" y="262.2" width="152" height="1" fill="#fff" fill-opacity="0.25"/>
<rect x="1641.3" y="262.2" width="155.3" height="1" fill="#fff" fill-opacity="0.25"/>
<text transform="translate(1581.55,23.10) scale(1.0339,1)" font-size="21.71" font-weight="normal" stroke-width="0.30">t=10 nm</text>
<text transform="translate(1582.26,200.30) scale(1.0168,1)" font-size="21.86" font-weight="normal" stroke-width="0.30">t=20 nm</text>
<text transform="translate(1589.45,380.80) scale(1.0154,1)" font-size="22.00" font-weight="normal" stroke-width="0.30">t=30 nm</text>
<text transform="translate(1516.30,161.30) scale(0.9390,1)" font-size="22.46" font-weight="normal" stroke-width="0.30">Amp</text>
<text transform="translate(1700.56,160.80) scale(1.0267,1)" font-size="22.14" font-weight="normal" stroke-width="0.30">Cry</text>
<text transform="translate(1514.40,335.70) scale(1.0129,1)" font-size="20.58" font-weight="normal" stroke-width="0.30">Amp</text>
<text transform="translate(1698.37,332.30) scale(1.1598,1)" font-size="19.43" font-weight="normal" stroke-width="0.30">Cry</text>
<text transform="translate(1519.70,515.90) scale(0.9541,1)" font-size="22.32" font-weight="normal" stroke-width="0.30">Amp</text>
<text transform="translate(1704.34,514.20) scale(1.0576,1)" font-size="22.00" font-weight="normal" stroke-width="0.30">Cry</text>
</svg>
</body></html>
